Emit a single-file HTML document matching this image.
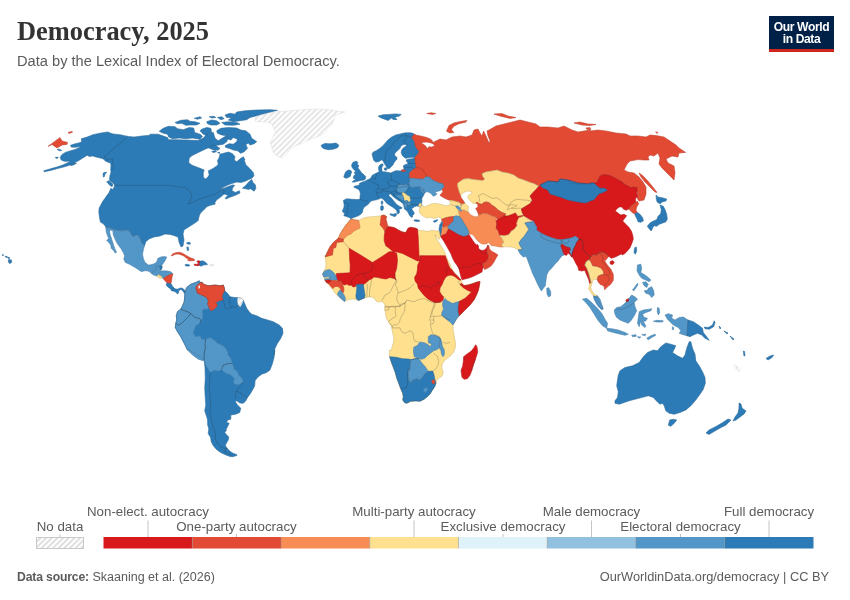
<!DOCTYPE html>
<html lang="en"><head><meta charset="utf-8"><title>Democracy, 2025</title>
<style>
html,body{margin:0;padding:0;background:#fff;}
body{width:850px;height:600px;position:relative;overflow:hidden;font-family:"Liberation Sans",sans-serif;color:#5b5b5b;}
.title{position:absolute;left:17px;top:15px;font-family:"Liberation Serif",serif;font-weight:bold;font-size:26.4px;line-height:32px;color:#333;letter-spacing:0px;white-space:nowrap;}
.subtitle{position:absolute;left:17px;top:51.9px;font-size:14.65px;line-height:18px;color:#5b5b5b;white-space:nowrap;}
.logo{position:absolute;left:769px;top:16px;width:65px;height:33px;background:#002147;border-bottom:3px solid #ce261e;color:#fff;font-weight:bold;font-size:12.1px;line-height:12px;text-align:center;letter-spacing:-0.4px;}
.logo span{display:block;}
.logo .l1{margin-top:5px;}
.src{position:absolute;left:17px;top:568.5px;font-size:12.5px;line-height:16px;color:#5b5b5b;white-space:nowrap;}
.src b{font-weight:bold;font-size:12.2px;letter-spacing:-0.15px;}
.url{position:absolute;right:21px;top:568.5px;font-size:12.8px;line-height:16px;color:#5b5b5b;white-space:nowrap;}
svg{position:absolute;left:0;top:0;}
svg text{font-family:"Liberation Sans",sans-serif;font-size:13.3px;fill:#5b5b5b;}
</style></head><body>
<div class="title">Democracy, 2025</div>
<div class="subtitle">Data by the Lexical Index of Electoral Democracy.</div>
<div class="logo"><span class="l1">Our World</span><span>in Data</span></div>
<svg width="850" height="600" viewBox="0 0 850 600">
<defs>
<pattern id="hatch" patternUnits="userSpaceOnUse" width="4" height="4" patternTransform="rotate(45)"><rect width="4" height="4" fill="#fff"/><line x1="1" y1="0" x2="1" y2="4" stroke="#dedede" stroke-width="1.9"/></pattern>
</defs>
<g id="map">
<defs><pattern id="hatch2" patternUnits="userSpaceOnUse" width="4" height="4" patternTransform="rotate(45)"><rect width="4" height="4" fill="#fff"/><line x1="1" y1="0" x2="1" y2="4" stroke="#e5e5e5" stroke-width="1.9"/></pattern></defs>
<path d="M48.0,146.4L60.0,137.6L62.0,141.0L67.6,142.4L67.0,144.4L62.0,145.0L57.0,148.0L52.0,144.4Z" fill="#e34a33" stroke="#e34a33" stroke-width="0.5" stroke-linejoin="round"/>
<path d="M68.0,132.6L72.0,131.4L72.6,132.2L69.0,133.4Z" fill="#e34a33" stroke="#e34a33" stroke-width="0.5" stroke-linejoin="round"/>
<path d="M159.2,131.3L163.3,128.3L168.3,126.3L175.0,126.7L177.5,128.7L183.3,129.7L189.2,127.5L193.7,128.0L194.7,132.5L200.0,134.2L202.5,136.3L200.0,139.3L192.5,138.0L185.8,138.7L179.2,138.0L172.5,138.7L168.7,137.0L167.5,134.2L163.3,133.3Z" fill="#2c7bb6" stroke="#2c7bb6" stroke-width="0.5" stroke-linejoin="round"/>
<path d="M175.0,122.5L180.8,120.3L187.5,119.7L190.0,121.3L195.0,121.7L200.0,123.3L196.7,125.0L190.0,125.0L185.8,125.3L181.7,123.3L177.5,123.7Z" fill="#2c7bb6" stroke="#2c7bb6" stroke-width="0.5" stroke-linejoin="round"/>
<path d="M194.2,118.3L200.0,116.7L201.7,118.0L197.5,119.2Z" fill="#2c7bb6" stroke="#2c7bb6" stroke-width="0.5" stroke-linejoin="round"/>
<path d="M206.7,121.7L211.7,120.0L216.7,120.8L220.0,123.3L216.7,125.0L210.8,125.0L207.5,123.7Z" fill="#2c7bb6" stroke="#2c7bb6" stroke-width="0.5" stroke-linejoin="round"/>
<path d="M209.2,116.7L214.2,116.3L215.8,117.5L211.7,118.0Z" fill="#2c7bb6" stroke="#2c7bb6" stroke-width="0.5" stroke-linejoin="round"/>
<path d="M217.5,117.5L221.7,116.7L224.2,118.7L220.8,119.7Z" fill="#2c7bb6" stroke="#2c7bb6" stroke-width="0.5" stroke-linejoin="round"/>
<path d="M225.0,115.0L230.0,113.3L235.0,114.2L236.7,112.0L245.0,110.8L256.7,110.0L270.0,109.7L277.5,110.3L266.7,113.0L256.7,115.8L250.0,117.5L246.7,119.7L240.0,120.8L233.3,121.7L228.3,120.0L231.7,117.5L226.7,117.5Z" fill="#2c7bb6" stroke="#2c7bb6" stroke-width="0.5" stroke-linejoin="round"/>
<path d="M221.7,122.5L228.3,121.7L236.7,122.5L240.0,124.2L233.3,125.3L225.0,125.0Z" fill="#2c7bb6" stroke="#2c7bb6" stroke-width="0.5" stroke-linejoin="round"/>
<path d="M201.7,129.2L206.7,127.5L210.8,128.3L211.7,132.5L208.3,133.3L206.7,135.8L203.3,134.2L200.0,130.8Z" fill="#2c7bb6" stroke="#2c7bb6" stroke-width="0.5" stroke-linejoin="round"/>
<path d="M216.7,130.8L220.8,128.3L228.3,127.5L236.7,128.0L240.8,130.0L245.8,130.8L250.0,134.2L251.7,138.3L256.7,141.7L254.2,143.7L250.0,145.0L248.3,143.0L245.8,144.7L247.5,148.3L244.2,151.7L240.8,153.3L237.5,150.8L233.3,150.0L229.2,148.3L225.8,147.5L225.0,145.8L229.2,143.7L233.3,144.2L236.7,141.7L237.5,139.2L233.3,137.5L230.8,140.0L228.3,139.2L227.0,135.8L221.7,135.0L217.5,133.3Z" fill="#2c7bb6" stroke="#2c7bb6" stroke-width="0.5" stroke-linejoin="round"/>
<path d="M81.2,138.8L87.1,137.1L92.9,134.7L101.2,132.9L107.6,132.0L112.9,133.9L120.0,134.7L128.0,136.4L134.0,137.0L142.0,136.0L150.0,135.2L150.0,134.2L158.3,134.2L167.5,137.5L168.7,139.7L176.7,139.7L186.7,140.0L198.3,140.5L203.3,138.0L207.5,133.7L213.3,132.5L215.0,138.3L218.3,140.8L223.3,137.5L226.3,135.8L228.3,137.5L226.7,141.7L223.3,144.2L216.7,145.3L212.5,145.8L209.2,147.5L205.0,149.2L198.3,152.5L191.7,155.8L189.2,158.3L188.7,162.5L191.7,165.0L195.8,166.7L200.0,168.3L204.2,170.0L203.3,172.5L203.3,176.7L205.0,179.2L207.5,177.5L209.2,175.0L208.3,170.8L211.7,169.2L215.8,166.7L218.3,164.2L217.5,160.8L219.2,157.5L220.0,154.2L228.3,152.0L232.5,153.7L235.0,156.7L234.2,160.0L236.7,161.7L240.8,158.3L243.3,156.7L245.0,160.0L244.1,160.0L245.9,164.7L250.6,169.4L253.5,172.9L253.9,175.9L251.8,178.2L248.8,179.4L245.9,180.9L241.2,182.4L236.5,182.1L231.8,183.5L227.1,185.3L222.9,187.6L220.0,190.4L223.5,188.5L228.2,186.4L232.9,184.9L234.7,185.5L232.9,187.6L231.8,190.6L235.3,192.4L239.4,190.8L240.0,192.9L235.3,195.3L229.4,197.4L225.9,199.1L225.3,197.9L228.2,195.3L224.1,194.1L220.0,197.6L216.5,200.0L214.7,202.9L215.3,204.1L210.6,205.3L207.1,206.5L204.1,209.4L200.6,212.9L199.4,215.3L198.8,217.6L198.2,220.6L194.1,223.5L189.4,226.5L184.7,229.4L184.0,230.0L183.0,234.0L184.0,240.0L183.0,246.0L181.0,247.0L179.0,242.0L178.0,237.0L174.0,235.6L170.0,234.4L165.0,234.0L160.0,236.0L154.0,237.0L149.0,239.0L145.8,241.7L144.6,245.4L141.7,242.9L140.4,239.2L138.3,235.4L135.8,235.0L133.8,236.7L131.7,235.4L130.8,232.9L128.3,230.4L125.0,230.0L122.5,230.8L117.5,230.4L113.3,229.3L110.0,227.9L105.8,227.5L105.4,226.2L103.3,223.8L100.4,222.1L99.6,218.3L99.2,215.0L99.2,215.0L98.8,211.7L99.2,207.9L100.8,205.0L102.5,201.7L104.6,198.8L106.7,195.8L108.8,192.9L110.0,190.4L110.8,188.3L112.9,189.6L113.8,187.5L115.0,185.4L111.7,182.1L109.6,180.4L109.6,178.3L110.0,175.0L110.3,174.7L111.0,172.0L110.7,169.3L111.0,166.0L110.7,163.3L108.3,162.3L105.7,161.3L103.0,158.7L99.0,157.7L95.0,156.7L92.9,155.9L89.4,156.5L87.1,155.3L85.3,156.5L82.4,158.2L78.8,160.6L74.1,162.9L69.4,165.3L63.5,167.1L57.6,168.5L50.6,170.4L44.1,171.8L43.8,170.8L50.6,168.8L57.6,166.8L63.5,164.7L68.2,162.4L70.6,161.2L67.6,161.2L64.1,161.2L61.2,160.0L60.2,157.4L61.8,154.7L65.3,152.4L70.6,150.8L75.3,149.4L79.4,147.6L80.6,146.5L75.3,147.3L71.2,147.1L70.6,145.3L74.1,144.1L78.8,142.9L81.8,141.8Z" fill="#2c7bb6" stroke="#2c7bb6" stroke-width="0.5" stroke-linejoin="round"/>
<path d="M242.4,188.2L245.9,185.3L249.4,181.2L251.8,179.4L252.9,182.4L255.3,184.7L255.9,188.2L254.1,191.2L252.4,190.0L250.6,188.8L248.2,189.4L245.9,188.8Z" fill="#2c7bb6" stroke="#2c7bb6" stroke-width="0.5" stroke-linejoin="round"/>
<path d="M103.0,173.3L105.0,172.3L106.7,172.3L105.0,174.3L104.3,176.7L103.3,177.0Z" fill="#2c7bb6" stroke="#2c7bb6" stroke-width="0.5" stroke-linejoin="round"/>
<path d="M106.7,181.7L108.8,180.8L111.2,182.5L112.9,185.0L112.1,186.7L110.0,185.4L107.9,183.3Z" fill="#2c7bb6" stroke="#2c7bb6" stroke-width="0.5" stroke-linejoin="round"/>
<path d="M105.8,227.5L110.0,227.9L113.3,229.3L117.5,230.4L122.5,230.8L125.0,230.0L128.3,230.4L130.8,232.9L131.7,235.4L133.8,236.7L135.8,235.0L138.3,235.4L140.4,239.2L141.7,242.9L144.6,245.4L143.3,250.0L142.5,254.2L143.3,258.3L145.0,262.5L146.2,263.3L148.3,265.0L150.8,264.8L154.2,263.8L156.7,262.1L157.9,258.3L160.8,257.1L164.2,256.5L166.7,257.1L165.4,260.0L163.8,262.5L162.5,264.6L161.2,265.4L160.4,265.8L155.8,266.2L155.4,267.9L157.1,269.2L155.8,270.4L153.3,271.2L152.1,273.3L151.7,273.8L150.0,272.1L147.5,270.8L144.2,270.8L141.7,271.7L140.0,270.8L136.0,268.0L129.0,264.0L125.4,262.5L123.8,259.2L124.6,255.8L123.3,252.5L120.8,248.3L117.9,244.6L115.4,240.0L113.3,235.0L112.9,230.8L110.4,230.0L109.6,231.2L110.0,234.2L111.2,237.5L112.5,241.7L113.8,245.8L115.0,249.2L116.5,251.7L115.4,253.3L113.8,250.8L111.2,248.3L110.8,245.0L108.8,242.5L106.7,240.4L108.8,238.3L107.5,235.8L106.2,231.7Z" fill="#5396c8" stroke="#5396c8" stroke-width="0.5" stroke-linejoin="round"/>
<path d="M155.8,266.2L160.4,265.8L160.0,267.9L160.8,269.6L160.4,270.8L159.6,272.1L158.3,274.2L157.1,275.8L156.2,276.0L153.8,275.0L151.7,273.8L152.1,273.3L153.3,271.2L155.8,270.4L157.1,269.2L155.4,267.9Z" fill="#5396c8" stroke="#5396c8" stroke-width="0.5" stroke-linejoin="round"/>
<path d="M160.4,265.8L161.2,265.4L162.3,266.2L161.8,268.8L160.8,270.0L160.0,267.9Z" fill="#2c7bb6" stroke="#2c7bb6" stroke-width="0.5" stroke-linejoin="round"/>
<path d="M160.4,271.0L163.3,270.8L167.5,271.0L170.8,271.8L172.9,273.8L170.0,274.6L167.5,275.8L165.0,277.1L163.3,278.8L162.5,277.9L161.8,276.8L160.8,276.0L158.8,275.0L159.6,272.1Z" fill="#5396c8" stroke="#5396c8" stroke-width="0.5" stroke-linejoin="round"/>
<path d="M157.1,276.0L158.5,274.8L160.8,276.0L161.8,276.8L162.3,278.2L160.4,278.2L157.9,277.3Z" fill="#fee08f" stroke="#fee08f" stroke-width="0.5" stroke-linejoin="round"/>
<path d="M163.3,278.8L165.0,277.1L167.5,275.8L170.0,274.6L172.9,273.9L172.1,276.7L171.7,280.0L171.0,283.3L169.6,283.8L167.1,282.9L165.0,280.8Z" fill="#e34a33" stroke="#e34a33" stroke-width="0.5" stroke-linejoin="round"/>
<path d="M166.2,283.8L167.1,282.9L169.6,283.8L171.0,283.5L172.1,285.4L173.3,287.5L172.9,289.6L171.7,290.8L170.8,289.2L169.2,287.9L167.5,286.7L166.5,285.4Z" fill="#2c7bb6" stroke="#2c7bb6" stroke-width="0.5" stroke-linejoin="round"/>
<path d="M172.9,289.6L173.3,287.5L175.0,288.8L177.5,289.2L179.6,288.3L181.2,287.9L183.3,288.8L185.0,290.8L185.7,292.5L184.6,293.3L183.3,291.7L182.1,290.0L180.4,289.6L178.8,290.8L178.3,293.3L177.1,293.8L175.8,292.1L173.8,291.2L171.7,290.8Z" fill="#2c7bb6" stroke="#2c7bb6" stroke-width="0.5" stroke-linejoin="round"/>
<path d="M171.2,255.4L172.9,253.8L175.8,252.7L179.2,252.3L182.5,253.2L185.4,255.0L188.3,256.7L191.7,258.3L194.2,259.2L194.6,260.4L191.7,260.8L188.8,260.7L187.5,260.0L188.8,259.0L186.2,257.9L184.2,256.2L181.7,255.0L178.3,254.0L175.0,254.2L172.5,255.8Z" fill="#e34a33" stroke="#e34a33" stroke-width="0.5" stroke-linejoin="round"/>
<path d="M185.0,264.8L186.7,264.2L189.2,264.8L189.8,265.8L187.5,266.2L185.4,265.7Z" fill="#2c7bb6" stroke="#2c7bb6" stroke-width="0.5" stroke-linejoin="round"/>
<path d="M196.7,261.2L198.3,260.7L200.4,261.2L199.6,263.3L199.8,265.4L197.5,265.7L194.6,265.4L194.0,264.3L196.7,264.2L198.3,263.8L197.9,262.5Z" fill="#d7191c" stroke="#d7191c" stroke-width="0.5" stroke-linejoin="round"/>
<path d="M200.4,261.2L202.5,260.8L204.6,261.7L206.7,263.3L207.5,264.6L205.8,264.8L203.3,265.0L201.2,266.2L199.8,265.4L199.6,263.3Z" fill="#2c7bb6" stroke="#2c7bb6" stroke-width="0.5" stroke-linejoin="round"/>
<path d="M209.6,264.4L213.6,264.1L213.9,265.8L210.0,266.1Z" fill="url(#hatch2)" stroke="#dcdcdc" stroke-width="0.5"/>
<path d="M186.4,243.1L189.5,242.1L190.6,244.0L188.1,244.2Z" fill="#2c7bb6" stroke="#2c7bb6" stroke-width="0.5" stroke-linejoin="round"/>
<path d="M186.7,247.4L188.1,246.8L188.8,250.2L187.4,250.6Z" fill="#2c7bb6" stroke="#2c7bb6" stroke-width="0.5" stroke-linejoin="round"/>
<path d="M57.1,149.4L59.4,149.2L61.8,150.4L59.4,150.8Z" fill="#2c7bb6" stroke="#2c7bb6" stroke-width="0.5" stroke-linejoin="round"/>
<path d="M55.3,157.4L57.6,157.1L58.2,157.9L56.2,158.6Z" fill="#2c7bb6" stroke="#2c7bb6" stroke-width="0.5" stroke-linejoin="round"/>
<path d="M70.0,164.5L74.1,162.9L76.5,163.3L73.5,164.9L70.8,165.6Z" fill="#2c7bb6" stroke="#2c7bb6" stroke-width="0.5" stroke-linejoin="round"/>
<path d="M8.5,259.5L11.5,260.0L11.6,262.5L9.6,263.6L8.4,262.0Z" fill="#2c7bb6" stroke="#2c7bb6" stroke-width="0.5" stroke-linejoin="round"/>
<path d="M5.4,256.0L7.5,256.8L7.3,257.7L5.3,256.9Z" fill="#2c7bb6" stroke="#2c7bb6" stroke-width="0.5" stroke-linejoin="round"/>
<path d="M8.0,257.3L9.6,257.6L9.5,258.5L8.0,258.2Z" fill="#2c7bb6" stroke="#2c7bb6" stroke-width="0.5" stroke-linejoin="round"/>
<path d="M2.4,254.6L3.5,254.8L3.4,255.6L2.4,255.4Z" fill="#2c7bb6" stroke="#2c7bb6" stroke-width="0.5" stroke-linejoin="round"/>
<path d="M208.8,147.9L211.8,145.0L215.9,145.6L220.0,148.5L217.6,150.3L212.9,149.7Z" fill="#2c7bb6" stroke="#2c7bb6" stroke-width="0.5" stroke-linejoin="round"/>
<path d="M211.8,151.5L215.3,150.6L216.5,151.8L212.9,152.6Z" fill="#2c7bb6" stroke="#2c7bb6" stroke-width="0.5" stroke-linejoin="round"/>
<path d="M217.6,152.6L219.4,152.1L219.8,153.5Z" fill="#2c7bb6" stroke="#2c7bb6" stroke-width="0.5" stroke-linejoin="round"/>
<path d="M185.0,291.7L186.7,287.5L190.8,284.2L195.8,282.5L199.2,280.8L200.0,282.5L201.7,282.0L203.7,284.2L208.3,285.8L215.0,285.0L220.0,285.8L223.3,285.0L224.2,287.5L224.7,290.8L227.5,293.3L230.0,296.7L234.2,297.5L238.0,297.5L240.8,298.0L243.3,300.0L244.2,302.5L246.7,308.3L249.2,311.7L251.7,314.2L256.7,315.8L261.7,318.3L266.7,319.7L273.3,321.7L279.2,325.0L282.5,328.3L283.0,333.3L280.8,338.3L277.5,343.3L275.0,348.3L274.2,355.0L274.2,350.0L274.2,356.7L272.5,363.3L270.0,370.0L266.7,372.5L261.7,374.2L257.5,377.5L255.0,380.8L254.7,385.8L252.5,390.0L250.0,394.2L247.5,397.5L245.8,400.8L243.3,403.3L240.0,403.0L236.7,400.8L235.3,401.7L237.5,405.0L240.8,408.3L239.7,412.5L235.8,414.2L230.8,415.0L230.8,419.2L227.5,420.0L226.7,422.5L229.2,423.3L227.5,426.7L225.8,430.0L226.5,430.0L224.7,432.4L226.5,434.7L228.8,437.1L228.2,440.0L226.5,442.9L225.3,445.3L226.5,447.6L228.2,449.4L230.6,451.8L233.5,453.5L236.5,454.4L237.1,455.3L232.9,456.7L230.0,456.5L225.3,454.7L220.6,452.4L216.5,449.4L213.5,445.9L211.2,441.8L210.6,437.6L208.2,433.5L208.8,428.8L207.6,424.7L207.6,420.0L206.7,416.7L204.7,410.8L205.8,405.0L205.3,398.3L204.7,388.3L205.3,378.3L205.0,368.3L204.2,360.0L201.7,357.5L195.0,353.3L189.2,350.0L187.5,350.0L184.2,343.3L180.8,336.7L177.5,331.7L175.3,327.5L175.8,323.3L176.7,320.0L176.3,315.8L177.5,311.7L180.8,309.2L182.5,305.8L184.2,301.7L184.7,296.7Z" fill="#2c7bb6" stroke="#2c7bb6" stroke-width="0.5" stroke-linejoin="round"/>
<path d="M185.0,291.7L186.7,287.5L190.8,284.2L195.8,282.5L199.2,280.8L200.0,282.5L197.5,285.0L195.8,287.5L196.3,290.0L197.5,293.3L201.7,295.0L206.7,297.5L208.3,300.8L207.5,304.2L209.2,307.5L207.5,309.2L203.3,309.2L202.5,311.7L203.0,315.8L201.7,320.0L200.0,323.3L200.8,320.0L199.2,318.3L195.0,317.5L190.8,313.7L189.2,312.5L185.0,310.8L180.8,309.2L182.5,305.8L184.2,301.7L184.7,296.7Z" fill="#5396c8" stroke="#5396c8" stroke-width="0.5" stroke-linejoin="round"/>
<path d="M180.8,309.2L185.0,310.8L189.2,312.5L190.8,313.7L188.3,316.7L185.0,320.0L181.7,323.3L178.3,325.3L176.3,323.7L175.8,323.3L176.7,320.0L176.3,315.8L177.5,311.7Z" fill="#5396c8" stroke="#5396c8" stroke-width="0.5" stroke-linejoin="round"/>
<path d="M190.8,313.7L195.0,317.5L199.2,318.3L200.8,320.0L200.0,323.3L195.8,325.8L194.2,330.0L193.3,333.3L195.8,336.7L200.0,335.8L201.7,339.2L205.8,339.2L205.0,343.3L205.3,348.3L204.2,353.3L204.2,358.3L203.3,360.8L198.3,359.2L192.5,355.0L187.5,350.0L184.2,343.3L180.8,336.7L177.5,331.7L175.3,327.5L175.8,323.3L176.3,323.7L178.3,325.3L181.7,323.3L185.0,320.0L188.3,316.7Z" fill="#5396c8" stroke="#5396c8" stroke-width="0.5" stroke-linejoin="round"/>
<path d="M205.8,339.2L210.0,337.5L214.2,340.0L217.5,343.3L221.7,345.0L225.8,348.3L228.3,353.3L227.5,354.2L230.8,358.3L232.5,363.3L227.5,363.7L223.3,365.0L221.7,369.2L218.3,371.3L214.2,370.3L210.8,372.5L208.7,370.0L205.8,365.0L204.2,360.0L204.2,358.3L204.2,353.3L205.3,348.3L205.0,343.3Z" fill="#5396c8" stroke="#5396c8" stroke-width="0.5" stroke-linejoin="round"/>
<path d="M232.5,363.3L234.2,369.2L237.5,371.7L239.2,375.8L241.7,377.5L243.3,381.7L240.0,384.2L235.8,385.0L233.3,382.5L234.2,378.3L230.8,375.0L225.8,373.3L222.5,370.8L221.7,369.2L223.3,365.0L227.5,363.7Z" fill="#5396c8" stroke="#5396c8" stroke-width="0.5" stroke-linejoin="round"/>
<path d="M195.8,287.5L197.5,284.7L201.7,282.0L203.7,284.2L208.3,285.8L215.0,285.0L220.0,285.8L223.3,285.0L224.2,287.5L224.7,290.8L223.0,293.3L222.0,296.7L223.0,299.7L219.2,300.8L215.8,302.5L217.5,305.8L214.2,309.2L210.8,310.8L209.2,307.5L207.5,304.2L208.3,300.8L206.7,297.5L201.7,295.0L197.5,293.3L196.3,290.0Z" fill="#e34a33" stroke="#e34a33" stroke-width="0.5" stroke-linejoin="round"/>
<path d="M198.3,285.8L199.7,285.3L200.0,288.0L198.7,288.7Z" fill="#fff"/>
<path d="M238.0,297.5L240.8,298.0L243.3,300.0L241.7,304.2L240.0,307.0L238.3,305.0L237.5,300.8Z" fill="url(#hatch2)" stroke="#dcdcdc" stroke-width="0.5"/>
<path d="M254.8,118.4L259.8,115.5L268.2,113.4L278.1,111.6L288.0,111.0L299.3,109.9L310.6,109.2L321.9,109.2L331.8,109.9L338.9,111.3L345.2,112.0L338.9,114.1L335.3,115.5L333.9,119.8L331.8,124.7L327.6,129.0L324.7,133.2L319.1,136.0L313.4,138.1L306.4,141.0L300.7,143.8L295.1,145.9L290.1,149.4L286.6,153.7L282.4,157.9L278.1,156.5L273.9,153.7L271.8,148.0L270.4,142.4L273.2,136.7L275.3,132.5L273.9,128.2L271.8,124.0L266.8,121.9L259.8,121.9L255.5,121.2Z" fill="url(#hatch2)" stroke="#dcdcdc" stroke-width="0.5"/>
<path d="M321.2,145.2L324.7,143.5L330.4,143.8L336.0,143.1L338.9,145.2L337.5,147.7L333.2,149.2L328.3,149.7L324.0,148.7L321.9,147.3Z" fill="#2c7bb6" stroke="#2c7bb6" stroke-width="0.5" stroke-linejoin="round"/>
<path d="M378.1,116.1L383.1,114.8L388.8,114.4L395.4,113.9L401.2,114.4L399.5,116.1L394.6,117.2L397.1,119.4L393.8,119.7L391.3,118.1L388.0,120.5L383.9,118.9L380.6,117.7Z" fill="#2c7bb6" stroke="#2c7bb6" stroke-width="0.5" stroke-linejoin="round"/>
<path d="M382.5,163.8L380.4,164.6L378.8,166.2L378.5,168.8L379.2,171.8L376.7,172.9L374.2,174.2L372.1,175.4L371.2,177.5L369.2,179.2L367.1,180.0L365.0,181.2L362.5,182.1L359.6,183.3L359.3,185.0L357.1,185.8L354.6,186.0L353.8,187.1L356.2,188.3L358.8,189.6L360.0,191.7L360.4,194.2L360.0,196.7L360.0,199.2L356.7,199.6L351.7,199.2L346.7,198.8L343.3,200.4L343.8,202.5L344.2,205.0L343.8,207.9L342.5,210.4L342.9,212.1L344.6,213.8L343.8,215.8L345.8,216.2L349.2,217.5L350.8,219.0L352.5,217.9L355.0,217.1L358.3,215.8L360.8,214.2L362.5,212.1L362.9,209.6L364.2,207.1L366.7,205.4L369.2,203.3L369.2,202.5L371.7,200.8L375.0,200.0L377.5,199.6L379.2,198.8L381.2,197.9L383.3,199.2L385.0,201.2L386.7,203.3L389.2,205.0L392.5,207.1L395.0,208.8L396.7,210.4L397.1,212.5L397.9,214.2L399.2,212.9L399.6,210.8L398.5,209.6L400.0,209.0L401.7,208.5L402.1,207.7L399.2,206.2L396.7,204.6L395.0,202.5L393.3,200.4L391.7,198.3L390.0,197.1L388.8,195.8L389.2,194.2L390.4,193.8L390.4,193.8L391.0,194.2L392.5,196.0L395.0,198.0L397.5,199.8L400.0,201.2L402.0,202.5L403.2,204.0L404.0,206.0L404.2,208.0L404.8,209.5L405.0,209.3L406.3,210.3L408.0,212.3L409.3,215.0L411.0,217.0L412.3,217.3L412.7,215.0L414.3,214.0L413.7,211.7L412.3,210.0L411.7,208.3L413.3,207.7L414.3,206.7L416.7,206.0L418.3,206.3L419.3,207.0L420.7,206.0L422.3,205.0L421.3,203.3L422.0,201.3L421.7,198.7L423.0,196.3L424.0,195.0L423.8,193.8L424.6,192.5L423.3,190.0L420.8,187.5L418.8,186.7L415.8,187.1L412.5,187.5L410.0,186.7L409.2,185.0L408.8,183.3L410.0,180.8L409.2,177.9L409.6,175.0L409.2,173.3L410.8,171.7L412.9,169.6L414.2,168.8L416.2,167.9L415.4,163.3L415.0,159.2L415.0,158.3L411.7,158.8L408.3,159.2L406.2,160.0L406.7,161.7L407.9,162.9L408.3,164.2L406.2,164.2L404.6,165.0L403.3,165.8L403.8,167.9L404.2,170.0L402.9,169.8L401.2,170.4L401.2,171.2L398.3,170.7L395.8,170.8L393.3,171.7L390.8,172.9L388.3,172.5L385.8,172.1L383.8,171.7L382.1,172.1L382.1,170.7L381.7,168.8L382.1,166.7L383.3,165.0Z" fill="#2c7bb6" stroke="#2c7bb6" stroke-width="0.5" stroke-linejoin="round"/>
<path d="M372.1,153.8L373.3,152.1L376.7,150.4L380.0,148.3L382.9,145.8L385.4,142.9L387.9,140.0L391.7,137.1L395.8,135.0L400.0,134.0L404.2,132.9L408.3,132.7L411.7,132.9L414.2,134.0L413.3,135.4L411.7,137.5L412.9,139.2L414.6,141.7L415.0,144.6L415.8,147.1L417.5,149.6L419.2,151.7L417.9,153.8L416.2,155.8L415.0,157.5L411.7,157.3L408.3,157.7L405.8,158.3L403.8,157.1L402.1,155.0L401.2,152.5L401.7,150.0L402.9,148.3L405.0,146.7L406.7,145.4L405.4,144.3L402.9,144.8L400.8,146.2L400.0,148.3L398.3,150.0L396.2,151.7L394.6,153.8L394.6,155.8L396.7,157.1L397.1,159.2L395.4,160.8L393.8,162.9L392.9,165.0L390.8,167.1L389.2,168.8L387.1,168.3L386.2,166.2L385.0,164.6L383.8,162.5L382.9,160.4L381.2,160.0L378.8,161.7L375.8,162.1L373.8,160.4L372.9,157.5L372.3,155.0Z" fill="#2c7bb6" stroke="#2c7bb6" stroke-width="0.5" stroke-linejoin="round"/>
<path d="M384.2,168.3L386.2,167.7L387.1,169.0L386.2,170.4L384.6,170.0Z" fill="#2c7bb6" stroke="#2c7bb6" stroke-width="0.5" stroke-linejoin="round"/>
<path d="M343.8,177.1L344.6,174.2L345.8,171.7L348.3,170.0L350.8,170.4L351.7,172.1L350.8,174.2L350.4,176.2L348.3,177.5L345.8,178.3Z" fill="#2c7bb6" stroke="#2c7bb6" stroke-width="0.5" stroke-linejoin="round"/>
<path d="M351.7,164.6L353.3,162.1L356.7,161.2L357.9,162.5L357.1,164.2L358.8,165.4L357.9,167.9L359.6,170.0L361.7,172.9L363.8,174.6L365.8,176.7L365.4,178.8L364.2,180.0L360.8,180.4L357.5,181.2L354.2,182.1L352.1,182.1L353.8,180.4L356.2,179.2L353.3,178.3L353.8,175.8L355.4,174.6L354.2,172.5L355.8,171.2L353.8,169.6L352.5,167.9L351.7,166.2Z" fill="#2c7bb6" stroke="#2c7bb6" stroke-width="0.5" stroke-linejoin="round"/>
<path d="M390.0,213.8L393.3,214.2L396.2,213.3L396.5,215.0L395.0,216.7L392.5,215.8L390.4,215.0Z" fill="#2c7bb6" stroke="#2c7bb6" stroke-width="0.5" stroke-linejoin="round"/>
<path d="M380.7,206.2L382.5,205.4L383.5,207.1L383.2,209.6L381.7,210.8L380.7,209.6Z" fill="#2c7bb6" stroke="#2c7bb6" stroke-width="0.5" stroke-linejoin="round"/>
<path d="M381.2,201.7L382.5,200.8L382.9,202.9L382.1,204.6L381.2,203.8Z" fill="#2c7bb6" stroke="#2c7bb6" stroke-width="0.5" stroke-linejoin="round"/>
<path d="M414.0,220.0L416.0,219.8L419.3,220.3L419.7,221.3L417.0,221.5L414.3,221.0Z" fill="#2c7bb6" stroke="#2c7bb6" stroke-width="0.5" stroke-linejoin="round"/>
<path d="M433.2,221.3L435.3,220.3L437.7,219.7L437.3,220.7L436.0,221.7L434.0,222.3Z" fill="#2c7bb6" stroke="#2c7bb6" stroke-width="0.5" stroke-linejoin="round"/>
<path d="M397.2,185.8L399.5,184.5L402.5,184.2L406.0,184.0L408.2,184.2L408.5,185.5L407.0,186.2L404.5,186.8L402.0,187.0L399.5,187.5L397.8,187.0Z" fill="#5396c8" stroke="#5396c8" stroke-width="0.5" stroke-linejoin="round"/>
<path d="M396.8,189.2L397.8,187.2L399.5,187.5L402.0,187.0L404.5,186.8L407.0,186.2L408.5,187.0L408.0,188.5L407.0,190.0L406.0,191.5L404.5,192.2L402.2,192.8L400.0,192.8L398.0,191.8L397.0,190.5Z" fill="#5396c8" stroke="#5396c8" stroke-width="0.5" stroke-linejoin="round"/>
<path d="M402.0,193.2L403.5,192.5L404.8,193.2L406.0,194.5L407.5,195.5L409.0,196.2L410.0,197.2L409.8,198.8L410.5,200.0L409.8,201.2L409.0,202.0L407.8,201.0L406.5,200.2L405.0,200.8L404.2,199.8L404.0,198.2L403.2,197.0L402.8,195.2Z" fill="#fee08f" stroke="#fee08f" stroke-width="0.5" stroke-linejoin="round"/>
<path d="M395.8,195.5L398.0,195.0L400.5,195.2L402.8,195.5L403.2,197.0L403.8,198.2L403.2,199.5L402.2,200.2L401.0,199.2L399.5,198.2L397.8,197.2L396.5,196.5Z" fill="#5396c8" stroke="#5396c8" stroke-width="0.5" stroke-linejoin="round"/>
<path d="M405.5,200.8L407.0,200.5L408.0,201.2L407.5,202.5L406.2,202.8L405.5,202.0Z" fill="#5396c8" stroke="#5396c8" stroke-width="0.5" stroke-linejoin="round"/>
<path d="M406.8,203.2L408.5,202.8L410.5,203.0L411.2,204.0L410.5,205.0L408.5,205.5L407.0,205.0Z" fill="#5396c8" stroke="#5396c8" stroke-width="0.5" stroke-linejoin="round"/>
<path d="M404.2,203.5L405.2,202.5L406.2,203.0L406.8,204.0L407.0,205.2L406.5,207.0L405.8,208.2L405.0,207.2L404.5,205.5Z" fill="#5396c8" stroke="#5396c8" stroke-width="0.5" stroke-linejoin="round"/>
<path d="M401.2,170.4L402.9,169.8L405.4,170.2L405.8,171.2L401.7,171.5Z" fill="#e34a33" stroke="#e34a33" stroke-width="0.5" stroke-linejoin="round"/>
<path d="M411.7,137.5L413.3,135.4L414.2,134.0L416.7,135.2L421.7,136.2L426.7,137.5L430.8,139.2L432.7,141.2L432.1,143.2L430.0,142.7L426.7,142.1L423.3,142.3L421.0,142.7L422.5,143.8L424.6,145.0L426.2,146.8L427.1,148.8L428.8,146.8L431.7,147.1L435.0,145.8L432.0,143.0L436.0,141.0L440.0,139.0L446.0,140.0L452.0,137.0L460.0,136.0L466.0,137.0L472.0,135.0L474.0,130.0L478.0,129.0L480.0,133.0L482.0,136.0L483.6,131.0L486.0,136.0L489.0,143.0L490.0,141.0L488.0,136.0L487.0,131.0L489.0,130.0L496.0,126.0L504.0,124.0L512.0,122.0L520.0,120.0L528.0,122.0L536.0,124.0L540.0,127.0L548.0,127.0L558.0,128.0L564.0,126.0L572.0,130.0L578.0,132.0L584.0,131.0L590.0,130.0L590.0,131.0L598.0,130.0L606.0,131.0L616.0,133.0L626.0,134.0L630.0,136.0L638.0,136.0L646.0,137.0L650.0,135.0L656.0,135.6L664.0,137.0L670.0,141.0L676.0,145.0L679.0,148.0L685.6,152.4L679.0,153.0L678.0,157.0L672.0,156.0L666.0,159.0L668.0,163.0L674.0,166.0L675.0,173.0L674.0,180.0L668.0,174.0L662.0,168.0L659.0,164.0L660.0,158.0L658.0,153.0L654.0,156.0L650.0,155.0L648.0,157.0L649.0,160.0L644.0,160.0L638.0,159.6L630.0,161.0L627.0,164.0L624.0,170.0L628.0,172.0L634.0,173.0L639.0,177.0L643.0,182.0L646.0,187.0L646.0,194.0L644.0,200.0L639.0,201.0L637.0,198.0L637.6,193.0L634.0,187.0L630.0,188.0L623.0,183.0L617.0,179.0L610.0,175.6L604.0,174.4L600.0,176.0L598.0,180.0L597.0,183.0L596.0,183.2L590.0,183.6L580.0,184.2L570.0,183.4L568.0,180.0L560.0,179.0L558.0,182.0L548.0,181.0L540.0,185.0L538.0,186.0L535.0,184.0L529.0,182.0L524.0,180.0L518.0,178.0L514.0,175.0L508.0,173.0L502.0,172.0L497.1,170.0L491.4,171.0L485.7,171.9L481.9,173.8L482.9,176.7L484.8,179.0L482.9,180.5L478.1,180.0L473.3,179.5L468.6,178.6L463.8,179.0L460.0,181.4L457.6,183.3L457.6,186.2L459.0,191.0L460.5,195.2L461.0,197.6L462.9,200.0L465.0,203.3L462.9,204.3L460.5,203.8L459.0,202.4L454.3,201.0L450.0,200.3L446.7,199.2L443.3,197.5L440.0,195.4L440.4,194.6L441.7,193.3L442.9,191.7L442.5,190.8L441.7,189.2L443.8,186.7L442.9,183.8L439.2,182.9L435.0,181.2L431.7,179.6L429.6,177.1L425.8,176.7L423.3,179.2L420.0,179.0L415.8,178.8L411.7,178.3L409.2,177.9L409.6,175.0L409.2,173.3L410.8,171.7L412.9,169.6L414.2,168.8L416.2,167.9L415.4,163.3L415.0,159.2L415.0,158.3L415.0,157.5L416.2,155.8L417.9,153.8L419.2,151.7L417.5,149.6L415.8,147.1L415.0,144.6L414.6,141.7L412.9,139.2Z" fill="#e34a33" stroke="#e34a33" stroke-width="0.5" stroke-linejoin="round"/>
<path d="M426.7,113.5L430.8,112.8L435.8,113.5L432.5,114.4Z" fill="#e34a33" stroke="#e34a33" stroke-width="0.5" stroke-linejoin="round"/>
<path d="M446.5,131.2L449.0,125.5L453.9,123.0L460.5,121.4L467.1,120.5L465.4,122.2L458.8,123.8L453.9,126.3L451.4,129.6L453.9,132.6L449.8,132.9Z" fill="#e34a33" stroke="#e34a33" stroke-width="0.5" stroke-linejoin="round"/>
<path d="M494.0,114.0L502.0,113.6L508.0,116.0L516.0,117.6L510.0,118.4L500.0,116.0Z" fill="#e34a33" stroke="#e34a33" stroke-width="0.5" stroke-linejoin="round"/>
<path d="M574.0,123.0L580.0,122.0L588.0,124.0L596.0,124.4L590.0,125.6L582.0,125.0Z" fill="#e34a33" stroke="#e34a33" stroke-width="0.5" stroke-linejoin="round"/>
<path d="M586.0,128.0L590.0,127.6L591.0,129.6L587.0,129.6Z" fill="#e34a33" stroke="#e34a33" stroke-width="0.5" stroke-linejoin="round"/>
<path d="M655.6,132.0L658.0,132.4L657.2,133.4Z" fill="#e34a33" stroke="#e34a33" stroke-width="0.5" stroke-linejoin="round"/>
<path d="M639.0,173.0L642.0,175.0L647.0,180.0L652.0,186.0L657.0,192.4L655.0,192.0L650.0,187.0L645.0,182.0L641.0,177.0Z" fill="#e34a33" stroke="#e34a33" stroke-width="0.5" stroke-linejoin="round"/>
<path d="M409.2,177.9L411.7,178.3L415.8,178.8L420.0,179.0L423.3,179.2L425.8,176.7L429.6,177.1L431.7,179.6L435.0,181.2L439.2,182.9L442.9,183.8L443.8,186.7L441.7,189.2L440.4,190.4L438.3,191.2L435.8,191.7L435.0,192.9L437.1,193.8L435.8,195.0L433.8,196.2L432.5,195.4L430.8,193.3L428.3,192.1L426.2,191.7L423.8,193.8L424.6,192.5L423.3,190.0L420.8,187.5L418.8,186.7L415.8,187.1L412.5,187.5L410.0,186.7L409.2,185.0L408.8,183.3L410.0,180.8Z" fill="#5396c8" stroke="#5396c8" stroke-width="0.5" stroke-linejoin="round"/>
<path d="M418.8,186.7L420.8,187.5L423.3,190.0L424.6,192.5L423.8,193.8L421.7,191.7L420.0,188.8Z" fill="#5396c8" stroke="#5396c8" stroke-width="0.5" stroke-linejoin="round"/>
<path d="M460.5,195.2L459.0,191.0L457.6,186.2L457.6,183.3L460.0,181.4L463.8,179.0L468.6,178.6L473.3,179.5L478.1,180.0L482.9,180.5L484.8,179.0L482.9,176.7L481.9,173.8L485.7,171.9L491.4,171.0L497.1,170.0L502.0,172.0L508.0,173.0L514.0,175.0L518.0,178.0L524.0,180.0L529.0,182.0L535.0,184.0L538.0,186.0L539.3,185.0L535.8,189.7L533.5,192.0L530.0,196.1L532.3,200.2L530.0,203.7L525.3,206.6L521.3,208.9L522.4,213.0L524.2,215.9L523.6,215.6L520.1,215.9L517.8,216.5L515.4,213.0L511.3,214.8L507.8,215.9L503.8,215.9L505.7,213.8L501.9,212.4L498.1,210.0L494.8,207.1L491.9,205.2L489.5,202.9L486.7,201.9L483.8,202.4L481.9,204.3L479.5,203.8L477.6,202.4L475.7,202.9L473.8,203.8L471.9,202.4L469.5,200.0L467.6,197.6L468.6,195.2L471.9,193.3L471.4,191.4L467.6,191.0L463.8,192.4Z" fill="#fee08f" stroke="#fee08f" stroke-width="0.5" stroke-linejoin="round"/>
<path d="M475.7,202.9L477.6,202.4L479.5,203.8L481.9,204.3L483.8,202.4L486.7,201.9L489.5,202.9L491.9,205.2L494.8,207.1L498.1,210.0L501.9,212.4L505.7,213.8L504.8,215.7L502.4,216.7L501.0,219.5L498.1,220.0L496.2,218.1L495.2,216.7L491.4,215.7L487.6,213.8L483.3,213.3L480.0,214.8L478.6,214.8L477.6,211.9L475.7,208.6L478.1,206.7L477.6,204.3Z" fill="#e34a33" stroke="#e34a33" stroke-width="0.5" stroke-linejoin="round"/>
<path d="M458.1,210.5L460.5,211.1L463.8,209.8L466.2,211.1L468.6,212.4L470.5,214.8L474.3,216.7L477.6,216.7L478.6,214.8L480.0,214.8L483.3,213.3L487.6,213.8L491.4,215.7L495.2,216.7L496.2,218.1L496.2,220.6L496.8,224.1L496.2,228.2L498.5,231.1L499.7,235.2L502.0,238.7L503.8,242.2L501.4,245.1L503.2,246.8L501.5,247.0L500.0,247.0L495.0,246.0L491.0,245.5L490.0,244.0L489.0,242.5L486.0,244.0L482.0,244.0L479.0,242.0L476.0,239.0L474.0,236.0L471.5,234.0L470.0,234.5L469.0,233.5L468.0,230.0L465.5,225.5L463.5,222.5L462.0,219.5L459.5,216.5L459.5,215.7L458.6,212.9Z" fill="#f78c55" stroke="#f78c55" stroke-width="0.5" stroke-linejoin="round"/>
<path d="M496.2,220.6L500.3,218.3L503.8,215.9L507.8,215.9L511.3,214.8L515.4,213.0L517.8,216.5L520.1,215.9L523.6,215.6L523.0,216.5L518.9,217.7L517.8,220.0L516.6,223.5L517.2,225.3L514.3,229.3L511.3,231.1L509.0,234.6L504.3,235.8L499.7,235.2L498.5,231.1L496.2,228.2L496.8,224.1Z" fill="#d7191c" stroke="#d7191c" stroke-width="0.5" stroke-linejoin="round"/>
<path d="M523.6,215.6L525.9,218.3L530.0,220.0L531.8,221.8L527.7,222.3L524.8,222.9L526.5,225.8L528.8,229.3L526.5,232.8L524.2,236.3L521.3,239.3L518.9,242.8L520.1,245.7L522.4,249.2L518.3,249.8L513.7,247.4L509.0,246.8L503.2,246.8L501.4,245.1L503.8,242.2L502.0,238.7L499.7,235.2L504.3,235.8L509.0,234.6L511.3,231.1L514.3,229.3L517.2,225.3L516.6,223.5L517.8,220.0L518.9,217.7L523.0,216.5Z" fill="#fee08f" stroke="#fee08f" stroke-width="0.5" stroke-linejoin="round"/>
<path d="M419.3,208.7L420.7,207.0L423.3,206.0L425.3,206.7L428.0,205.3L431.3,204.0L434.0,203.3L437.3,203.7L440.7,204.3L444.0,205.3L446.7,205.7L449.3,205.0L450.3,204.0L452.4,205.2L455.7,206.0L456.7,208.1L458.6,209.5L458.1,210.5L458.6,212.9L459.5,215.7L459.5,216.5L456.0,215.8L453.5,216.5L449.0,217.0L445.0,218.0L441.5,219.5L441.7,218.0L441.0,218.7L440.0,217.3L438.3,217.0L436.0,218.0L433.3,218.3L431.3,217.7L429.3,217.3L427.3,218.0L425.3,217.3L423.3,216.3L421.3,214.7L420.0,213.0L419.3,211.0Z" fill="#fee08f" stroke="#fee08f" stroke-width="0.5" stroke-linejoin="round"/>
<path d="M418.7,205.0L419.7,203.3L421.3,203.7L422.3,205.0L420.7,206.0L419.3,207.0L418.3,206.3Z" fill="#fee08f" stroke="#fee08f" stroke-width="0.5" stroke-linejoin="round"/>
<path d="M450.0,200.3L454.3,201.0L459.0,202.4L460.5,203.8L461.4,205.4L458.6,206.0L455.7,205.7L452.4,205.2L450.0,203.3Z" fill="#fee08f" stroke="#fee08f" stroke-width="0.5" stroke-linejoin="round"/>
<path d="M455.7,206.0L458.6,206.2L460.5,208.1L461.9,210.5L460.5,211.0L458.6,209.5L456.7,208.1Z" fill="#5396c8" stroke="#5396c8" stroke-width="0.5" stroke-linejoin="round"/>
<path d="M460.5,203.8L462.9,204.3L465.0,203.3L466.7,205.2L468.6,206.7L468.1,209.5L468.6,211.9L466.2,211.0L463.8,209.5L461.9,210.5L460.5,208.1L461.4,205.4Z" fill="#fee08f" stroke="#fee08f" stroke-width="0.5" stroke-linejoin="round"/>
<path d="M441.5,219.5L445.0,218.0L449.0,217.0L453.5,216.5L453.5,221.0L451.0,223.5L448.5,225.5L446.0,226.5L443.0,227.5L442.0,225.0L442.5,222.5Z" fill="#e34a33" stroke="#e34a33" stroke-width="0.5" stroke-linejoin="round"/>
<path d="M448.5,225.5L451.0,223.5L453.5,221.0L453.5,217.0L456.0,215.8L459.5,216.5L462.0,219.5L463.5,222.5L465.5,225.5L468.0,230.0L469.0,234.0L467.0,236.0L463.0,236.5L458.0,234.5L453.0,231.5L448.5,229.0L447.5,227.5Z" fill="#5396c8" stroke="#5396c8" stroke-width="0.5" stroke-linejoin="round"/>
<path d="M441.5,228.5L443.0,227.5L446.0,226.5L448.5,225.5L447.5,227.5L448.5,229.0L447.5,231.0L446.0,234.0L443.0,235.0L440.5,236.5L441.0,232.5Z" fill="#f78c55" stroke="#f78c55" stroke-width="0.5" stroke-linejoin="round"/>
<path d="M440.0,224.0L442.0,223.0L442.2,225.5L441.5,228.5L441.0,232.5L440.5,236.0L439.5,233.0L439.0,229.0Z" fill="#2c7bb6" stroke="#2c7bb6" stroke-width="0.5" stroke-linejoin="round"/>
<path d="M441.0,222.0L442.5,221.5L442.5,223.5L441.2,224.2Z" fill="#5396c8" stroke="#5396c8" stroke-width="0.5" stroke-linejoin="round"/>
<path d="M440.5,236.5L443.0,235.0L446.0,234.0L447.5,231.0L448.5,229.0L453.0,231.5L458.0,234.5L463.0,236.5L467.0,236.0L469.0,234.5L470.5,237.0L472.5,240.0L474.5,243.0L476.5,245.0L477.5,244.5L478.5,246.0L478.5,248.0L479.5,249.5L482.0,250.5L484.5,250.0L486.5,248.0L488.0,245.0L487.5,249.5L487.0,253.0L488.5,255.0L488.0,259.0L486.0,262.0L482.0,264.0L483.0,265.0L483.5,267.0L482.5,269.0L482.0,272.0L480.0,273.0L477.0,274.5L473.0,276.5L469.0,278.0L465.0,279.0L462.0,279.8L461.0,277.0L460.0,273.0L459.0,269.0L457.5,265.0L460.0,269.5L457.5,266.0L454.5,262.0L452.5,258.0L451.0,254.0L448.5,249.5L446.0,245.0L443.0,240.0Z" fill="#d7191c" stroke="#d7191c" stroke-width="0.5" stroke-linejoin="round"/>
<path d="M488.0,245.0L489.0,246.5L489.5,249.0L492.0,251.5L495.0,253.0L498.0,255.0L496.0,258.0L494.0,262.0L491.0,266.0L488.0,268.0L484.5,269.5L483.5,267.0L483.0,265.0L482.0,264.0L486.0,262.0L488.0,259.0L488.5,255.0L487.0,253.0L487.5,249.5Z" fill="#e34a33" stroke="#e34a33" stroke-width="0.5" stroke-linejoin="round"/>
<path d="M540.0,185.0L548.0,181.0L558.0,182.0L560.0,179.0L568.0,180.0L578.0,183.0L590.0,184.0L590.0,183.0L594.0,183.0L597.0,183.0L598.0,180.0L600.0,176.0L604.0,174.4L610.0,175.6L617.0,179.0L623.0,183.0L620.7,181.7L626.0,185.0L630.7,187.7L634.0,187.0L637.3,187.7L636.7,192.3L637.3,196.3L635.3,199.0L636.0,202.3L633.3,204.3L630.7,206.3L628.7,209.0L626.0,210.3L623.3,209.0L622.0,207.0L619.3,207.0L616.7,209.0L615.3,211.0L618.0,213.0L620.7,215.0L624.0,214.3L626.7,215.7L624.7,218.3L622.7,221.0L625.3,223.7L628.7,227.0L631.3,231.0L632.7,235.0L633.3,239.0L632.0,243.0L630.0,247.7L627.3,251.0L624.7,253.7L622.0,255.0L622.0,253.7L619.3,255.0L615.3,257.0L611.3,258.3L608.7,256.3L606.0,253.7L602.0,251.7L598.7,253.0L596.7,255.0L593.3,254.3L590.7,257.0L588.7,255.0L584.7,251.7L582.7,248.3L583.3,244.3L582.0,239.7L579.3,239.0L579.6,239.8L577.8,238.1L575.5,236.3L570.8,238.1L566.2,238.9L561.5,239.8L556.8,239.3L551.0,237.5L545.2,235.2L540.5,232.8L536.4,229.9L537.0,227.6L535.3,224.7L533.5,221.2L528.8,218.8L524.2,215.9L522.4,213.0L521.3,208.9L525.3,206.6L530.0,203.7L532.3,200.2L530.0,196.1L533.5,192.0L535.8,189.7Z" fill="#d7191c" stroke="#d7191c" stroke-width="0.5" stroke-linejoin="round"/>
<path d="M540.0,185.0L548.0,181.0L558.0,182.0L560.0,179.0L568.0,180.0L578.0,183.0L590.0,184.0L590.0,183.0L594.0,183.0L596.7,185.7L600.0,188.3L604.7,188.3L607.3,190.3L603.3,192.3L599.3,193.7L596.7,196.3L594.0,199.7L590.0,201.0L586.0,203.0L578.0,202.0L568.0,200.0L560.0,197.0L550.0,194.0L548.0,190.0L543.0,188.0Z" fill="#2c7bb6" stroke="#2c7bb6" stroke-width="0.5" stroke-linejoin="round"/>
<path d="M610.0,261.7L612.7,260.6L614.3,262.3L612.7,264.6L610.3,264.1Z" fill="#d7191c" stroke="#d7191c" stroke-width="0.5" stroke-linejoin="round"/>
<path d="M634.7,247.7L636.4,247.0L636.7,251.0L635.3,254.3L634.0,252.3Z" fill="#2c7bb6" stroke="#2c7bb6" stroke-width="0.5" stroke-linejoin="round"/>
<path d="M531.8,221.8L533.5,221.2L535.3,224.7L537.0,227.6L536.4,229.9L540.5,232.8L545.2,235.2L551.0,237.5L556.8,239.3L561.5,239.8L566.2,238.9L570.8,238.1L575.5,236.3L577.8,238.1L579.6,239.8L579.3,239.0L576.7,242.3L575.3,245.7L573.3,249.7L572.3,255.0L572.1,256.6L570.3,253.8L569.1,251.5L570.3,249.5L569.9,247.7L567.1,247.1L564.5,245.8L562.5,244.3L560.8,244.9L561.2,247.1L562.1,249.1L563.3,252.5L564.0,255.0L562.0,255.7L560.0,258.3L558.0,261.0L555.3,263.7L552.0,267.7L548.7,271.0L546.7,275.0L546.0,280.3L545.3,285.7L543.3,288.3L541.3,291.0L538.0,285.0L535.3,279.0L532.7,273.7L530.7,268.3L528.7,263.0L527.3,259.0L526.0,256.3L523.3,257.0L520.0,253.7L518.0,249.7L518.3,249.8L522.4,249.2L520.1,245.7L518.9,242.8L521.3,239.3L524.2,236.3L526.5,232.8L528.8,229.3L526.5,225.8L524.8,222.9L527.7,222.3Z" fill="#5396c8" stroke="#5396c8" stroke-width="0.5" stroke-linejoin="round"/>
<path d="M546.7,288.3L548.7,287.7L550.7,291.7L550.7,295.7L548.7,297.0L547.1,294.3Z" fill="#5396c8" stroke="#5396c8" stroke-width="0.5" stroke-linejoin="round"/>
<path d="M560.8,244.9L562.5,244.3L564.5,245.8L567.1,247.1L569.9,247.7L570.3,249.5L569.1,251.5L570.3,253.8L572.1,256.6L571.5,257.0L569.6,254.1L567.9,253.3L566.7,255.3L564.5,254.9L563.3,252.5L562.1,249.1L561.2,247.1Z" fill="#d7191c" stroke="#d7191c" stroke-width="0.5" stroke-linejoin="round"/>
<path d="M579.3,239.0L582.0,239.7L583.3,244.3L582.7,248.3L584.7,251.7L588.7,255.0L590.7,257.0L588.7,259.7L586.0,261.7L584.7,265.0L586.7,268.3L588.7,273.7L590.0,279.0L591.1,283.0L589.7,283.7L588.7,279.7L586.7,275.0L584.7,270.3L582.0,271.0L578.7,270.3L578.0,267.0L576.0,263.7L574.0,259.7L572.0,256.3L572.0,253.7L573.3,249.7L575.3,245.7L576.7,242.3Z" fill="#d7191c" stroke="#d7191c" stroke-width="0.5" stroke-linejoin="round"/>
<path d="M586.0,261.7L588.7,259.7L590.7,261.0L592.7,265.7L596.7,266.3L600.7,267.7L603.3,271.0L604.0,274.3L600.7,275.0L598.0,276.3L597.3,279.7L594.0,279.0L592.7,281.0L592.0,283.7L590.7,287.7L592.0,291.0L594.7,294.3L598.0,296.3L596.7,297.7L593.3,295.7L590.7,292.3L588.7,289.0L589.7,283.7L591.1,283.0L590.0,279.0L588.7,273.7L586.7,268.3L584.7,265.0Z" fill="#fee08f" stroke="#fee08f" stroke-width="0.5" stroke-linejoin="round"/>
<path d="M590.7,257.0L593.3,254.3L596.7,255.0L598.7,253.0L602.0,251.7L606.0,253.7L608.7,256.3L606.7,259.0L604.7,261.0L607.3,265.0L610.7,269.0L613.3,274.3L613.3,280.3L610.7,284.3L607.3,287.0L604.7,289.7L604.0,286.3L603.3,285.7L600.0,284.3L598.0,281.7L597.3,279.7L598.0,276.3L600.7,275.0L604.0,274.3L603.3,271.0L600.7,267.7L596.7,266.3L592.7,265.7L590.7,261.0L588.7,259.7Z" fill="#e34a33" stroke="#e34a33" stroke-width="0.5" stroke-linejoin="round"/>
<path d="M593.3,295.7L596.7,297.7L598.7,301.7L601.3,305.7L603.3,309.0L602.0,309.7L598.7,307.0L596.0,303.0L594.0,299.0Z" fill="#5396c8" stroke="#5396c8" stroke-width="0.5" stroke-linejoin="round"/>
<path d="M628.7,209.0L630.7,206.3L633.3,204.3L636.0,202.3L637.3,201.0L638.7,203.7L636.7,207.0L636.0,210.3L637.3,212.3L634.7,213.7L632.7,213.0L630.7,211.0Z" fill="#e34a33" stroke="#e34a33" stroke-width="0.5" stroke-linejoin="round"/>
<path d="M634.7,213.7L637.3,212.6L640.0,214.3L642.7,217.7L643.3,221.0L640.7,222.3L638.0,221.7L636.7,218.3L635.3,215.7Z" fill="#2c7bb6" stroke="#2c7bb6" stroke-width="0.5" stroke-linejoin="round"/>
<path d="M656.0,195.0L658.0,197.0L662.0,197.7L666.7,199.0L666.0,201.0L662.7,201.7L660.0,203.7L657.3,202.3L656.4,199.7Z" fill="#2c7bb6" stroke="#2c7bb6" stroke-width="0.5" stroke-linejoin="round"/>
<path d="M660.0,205.0L663.3,206.3L665.3,210.3L666.7,214.3L667.3,219.0L666.0,221.7L662.7,223.0L659.3,224.3L656.7,226.3L654.0,225.7L652.7,227.7L651.3,231.0L649.3,229.0L647.3,226.3L650.0,223.0L653.3,221.0L656.7,219.7L658.0,216.3L660.7,213.7L661.3,209.7Z" fill="#2c7bb6" stroke="#2c7bb6" stroke-width="0.5" stroke-linejoin="round"/>
<path d="M582.5,299.2L586.7,298.3L591.7,302.5L596.7,307.5L601.7,313.3L605.0,319.2L607.5,323.3L606.7,328.3L602.5,325.8L598.3,320.8L594.2,314.2L590.0,307.5L585.8,302.5Z" fill="#5396c8" stroke="#5396c8" stroke-width="0.5" stroke-linejoin="round"/>
<path d="M594.2,296.7L597.5,295.8L600.0,299.2L601.7,304.2L603.0,308.3L601.3,309.2L598.3,305.0L595.8,300.8Z" fill="#5396c8" stroke="#5396c8" stroke-width="0.5" stroke-linejoin="round"/>
<path d="M606.7,328.3L611.7,328.7L618.3,330.0L625.0,332.5L628.3,334.2L625.0,335.3L618.3,333.7L611.7,332.0L607.5,330.8Z" fill="#5396c8" stroke="#5396c8" stroke-width="0.5" stroke-linejoin="round"/>
<path d="M631.7,335.3L635.8,334.7L636.3,336.3L632.5,336.7Z" fill="#5396c8" stroke="#5396c8" stroke-width="0.5" stroke-linejoin="round"/>
<path d="M637.5,336.7L640.8,337.0L639.2,338.3Z" fill="#5396c8" stroke="#5396c8" stroke-width="0.5" stroke-linejoin="round"/>
<path d="M641.7,334.7L645.8,334.2L645.0,335.8Z" fill="#5396c8" stroke="#5396c8" stroke-width="0.5" stroke-linejoin="round"/>
<path d="M646.7,338.3L650.8,335.8L655.0,334.2L655.8,335.3L651.7,337.5L648.3,339.7Z" fill="#5396c8" stroke="#5396c8" stroke-width="0.5" stroke-linejoin="round"/>
<path d="M614.2,310.0L616.7,307.5L620.8,306.7L625.0,303.3L628.3,299.2L631.7,295.0L635.8,297.5L637.5,299.2L634.2,302.5L635.0,306.7L636.7,310.8L634.2,315.8L630.8,320.8L628.3,323.3L624.2,321.7L620.0,320.0L616.7,317.5L615.0,314.2Z" fill="#5396c8" stroke="#5396c8" stroke-width="0.5" stroke-linejoin="round"/>
<path d="M625.8,300.0L628.3,298.7L628.7,300.8L626.7,302.0Z" fill="#d7191c" stroke="#d7191c" stroke-width="0.5" stroke-linejoin="round"/>
<path d="M639.2,311.7L643.3,310.0L649.2,309.2L651.7,308.7L650.8,310.8L645.8,312.5L642.5,314.2L644.2,317.5L647.5,318.3L645.8,320.8L643.3,321.7L645.8,325.8L645.0,327.5L641.7,325.0L640.8,320.8L639.2,326.7L637.5,323.3L638.3,317.5Z" fill="#5396c8" stroke="#5396c8" stroke-width="0.5" stroke-linejoin="round"/>
<path d="M657.5,307.5L659.2,308.3L659.7,312.5L658.3,315.0L657.2,311.7Z" fill="#5396c8" stroke="#5396c8" stroke-width="0.5" stroke-linejoin="round"/>
<path d="M637.5,265.0L640.8,264.2L641.7,268.3L640.8,272.5L645.0,275.0L648.3,277.5L650.8,280.0L649.2,281.7L645.8,280.0L641.7,278.3L639.2,275.0L637.0,270.8Z" fill="#5396c8" stroke="#5396c8" stroke-width="0.5" stroke-linejoin="round"/>
<path d="M642.5,282.5L645.8,281.7L648.3,284.2L646.7,287.5L644.2,285.8Z" fill="#5396c8" stroke="#5396c8" stroke-width="0.5" stroke-linejoin="round"/>
<path d="M648.3,288.3L651.7,286.7L653.7,290.8L654.2,295.0L651.7,297.5L649.2,294.2L645.8,293.3L644.2,290.8L647.5,290.3Z" fill="#5396c8" stroke="#5396c8" stroke-width="0.5" stroke-linejoin="round"/>
<path d="M632.5,290.0L635.0,286.7L637.5,283.3L638.0,284.7L635.8,288.0L633.7,290.8Z" fill="#5396c8" stroke="#5396c8" stroke-width="0.5" stroke-linejoin="round"/>
<path d="M665.0,315.0L668.3,313.7L672.5,315.0L671.7,318.3L675.0,320.0L679.2,317.5L683.3,317.0L688.0,320.0L687.5,326.7L687.0,335.8L683.3,334.7L679.2,333.3L680.8,330.8L678.3,327.5L673.3,325.0L670.0,321.7L667.5,319.2Z" fill="#5396c8" stroke="#5396c8" stroke-width="0.5" stroke-linejoin="round"/>
<path d="M688.0,320.0L693.3,321.7L698.3,325.0L702.5,328.3L703.3,332.5L706.7,336.7L709.2,340.3L705.0,338.3L701.7,335.0L697.5,333.3L693.3,335.0L690.0,336.7L687.0,335.8L687.5,326.7Z" fill="#2c7bb6" stroke="#2c7bb6" stroke-width="0.5" stroke-linejoin="round"/>
<path d="M704.2,327.0L708.3,327.5L712.5,325.0L714.2,320.8L715.0,322.5L713.7,326.7L709.2,329.2L705.0,328.7Z" fill="#2c7bb6" stroke="#2c7bb6" stroke-width="0.5" stroke-linejoin="round"/>
<path d="M653.3,321.3L656.7,320.3L663.3,320.8L662.5,322.0L656.7,322.0Z" fill="#5396c8" stroke="#5396c8" stroke-width="0.5" stroke-linejoin="round"/>
<path d="M672.5,326.7L673.7,327.5L673.3,330.0L672.2,329.2Z" fill="#5396c8" stroke="#5396c8" stroke-width="0.5" stroke-linejoin="round"/>
<path d="M620.0,370.8L625.0,367.5L632.5,365.8L639.2,362.5L643.3,356.7L647.5,352.5L653.3,350.0L657.5,350.8L660.8,346.7L665.8,343.0L670.8,344.2L675.8,345.8L674.2,349.2L672.5,352.5L677.5,355.8L682.5,358.3L685.0,355.0L686.7,348.3L689.2,341.7L690.8,341.7L692.5,348.3L695.0,354.2L695.8,360.8L699.2,365.8L702.5,371.7L705.0,377.5L705.3,383.3L703.3,389.2L700.0,394.2L695.8,400.0L690.8,405.8L685.8,410.0L680.0,412.5L674.2,414.2L669.2,413.3L665.8,410.8L664.2,405.8L662.5,403.3L660.0,404.2L657.5,402.0L653.3,397.5L648.3,395.8L641.7,397.5L635.0,399.2L629.2,400.8L624.2,402.5L619.2,404.2L615.0,403.3L615.0,400.8L617.5,397.5L618.3,391.7L616.7,385.8L617.5,380.0L618.3,375.0Z" fill="#2c7bb6" stroke="#2c7bb6" stroke-width="0.5" stroke-linejoin="round"/>
<path d="M669.7,420.0L673.3,419.2L676.7,420.0L674.2,423.3L670.8,426.3L668.3,425.3Z" fill="#2c7bb6" stroke="#2c7bb6" stroke-width="0.5" stroke-linejoin="round"/>
<path d="M739.0,403.0L741.0,404.0L742.0,408.0L746.0,411.0L744.0,414.0L740.0,417.0L736.0,420.0L733.0,421.0L735.0,417.0L738.0,413.0L739.0,408.0Z" fill="#2c7bb6" stroke="#2c7bb6" stroke-width="0.5" stroke-linejoin="round"/>
<path d="M706.0,433.0L709.0,430.0L715.0,427.0L722.0,423.0L728.0,419.0L731.0,420.0L726.0,425.0L720.0,428.0L714.0,431.6L709.0,434.4Z" fill="#2c7bb6" stroke="#2c7bb6" stroke-width="0.5" stroke-linejoin="round"/>
<path d="M734.0,365.6L736.0,365.0L740.0,370.0L739.0,371.6L736.0,369.0Z" fill="url(#hatch2)" stroke="#dcdcdc" stroke-width="0.5"/>
<path d="M743.4,351.0L744.6,351.6L745.0,356.0L743.8,355.6Z" fill="#2c7bb6" stroke="#2c7bb6" stroke-width="0.5" stroke-linejoin="round"/>
<path d="M766.0,358.4L770.0,356.0L773.6,355.0L772.0,357.6L768.0,360.0Z" fill="#2c7bb6" stroke="#2c7bb6" stroke-width="0.5" stroke-linejoin="round"/>
<path d="M719.0,326.0L721.0,328.0L720.0,329.0Z" fill="#2c7bb6" stroke="#2c7bb6" stroke-width="0.5" stroke-linejoin="round"/>
<path d="M724.0,331.0L728.0,333.0L727.0,334.0Z" fill="#2c7bb6" stroke="#2c7bb6" stroke-width="0.5" stroke-linejoin="round"/>
<path d="M730.0,336.0L734.0,339.0L733.0,340.0Z" fill="#2c7bb6" stroke="#2c7bb6" stroke-width="0.5" stroke-linejoin="round"/>
<path d="M350.4,219.6L352.5,219.2L355.8,220.0L358.8,220.4L362.5,218.3L367.5,217.1L372.5,216.7L377.5,216.2L381.2,215.8L383.8,215.0L385.4,215.8L386.7,216.7L385.8,219.2L386.7,221.7L387.1,224.2L388.3,226.7L391.7,227.1L395.0,227.9L398.3,230.0L401.7,231.7L405.0,232.5L406.0,232.3L408.0,228.3L410.7,227.3L413.3,227.7L416.0,228.3L418.0,229.7L418.0,231.0L420.0,230.3L423.3,230.7L426.7,231.3L429.3,231.0L432.0,230.3L434.7,230.7L437.3,231.0L439.3,231.3L439.5,233.0L440.5,236.5L439.0,239.5L437.0,237.5L435.0,234.5L436.0,238.0L439.0,242.5L443.0,249.0L445.0,253.0L446.5,257.0L448.0,260.5L450.0,264.0L451.5,268.0L454.0,272.0L456.5,275.0L458.0,276.0L460.0,279.0L461.0,280.5L462.0,281.5L461.8,283.5L464.0,285.5L468.0,285.0L473.0,283.5L477.0,282.0L480.0,281.5L479.5,285.0L478.5,290.0L476.5,295.0L474.0,300.0L470.0,305.0L466.0,309.0L462.0,313.0L459.0,316.0L456.5,319.0L454.5,322.5L453.0,325.0L453.0,328.7L453.7,332.7L454.3,336.7L455.0,340.0L455.7,344.7L455.0,348.7L453.7,352.0L451.0,355.3L447.7,358.0L444.3,360.7L442.3,364.0L441.7,367.3L442.3,370.0L443.3,372.0L442.0,376.0L439.3,378.0L436.7,380.0L436.0,383.3L434.7,386.7L432.0,390.7L430.0,394.0L427.3,396.7L424.0,399.3L420.0,401.3L416.0,400.9L410.7,401.3L406.7,403.3L404.7,402.7L402.7,400.0L403.3,396.7L402.7,393.3L400.7,388.7L398.7,383.3L396.7,378.0L395.3,372.7L393.3,367.3L391.3,362.0L389.6,356.7L389.3,350.0L391.0,350.7L392.3,346.0L393.7,342.0L393.7,336.7L392.3,331.3L391.7,326.7L389.0,322.7L386.3,318.0L385.0,311.0L384.5,308.5L385.0,305.5L384.0,303.0L381.5,301.5L378.0,302.0L376.0,301.0L374.5,298.5L372.0,297.0L368.0,297.0L364.5,298.0L361.0,299.5L358.5,300.5L356.5,299.5L353.0,299.0L349.0,299.5L346.0,300.5L344.5,301.5L341.5,299.0L338.0,296.0L335.5,293.5L333.0,290.0L330.5,287.0L328.0,284.0L325.5,281.5L324.5,279.0L323.5,276.5L322.5,274.0L324.0,271.0L325.5,268.0L326.0,264.0L325.5,259.0L325.0,255.0L325.3,256.7L327.5,251.7L330.0,246.7L333.3,242.5L338.3,238.3L340.0,234.2L342.5,230.0L345.8,225.0L346.2,225.0L348.3,222.1Z" fill="#fee08f" stroke="#fee08f" stroke-width="0.5" stroke-linejoin="round"/>
<path d="M350.4,219.6L352.5,219.2L355.8,220.0L358.8,220.4L359.2,223.3L360.0,226.7L359.6,228.3L356.7,229.6L353.8,231.2L351.2,233.8L347.5,235.4L343.3,239.2L338.3,238.3L340.0,234.2L342.5,230.0L345.8,225.0L346.2,225.0L348.3,222.1Z" fill="#f78c55" stroke="#f78c55" stroke-width="0.5" stroke-linejoin="round"/>
<path d="M338.3,238.3L343.3,239.2L343.3,241.7L336.7,242.5L335.8,247.5L333.3,248.3L332.5,255.0L325.8,256.7L325.3,256.7L327.5,251.7L330.0,246.7L333.3,242.5Z" fill="#e34a33" stroke="#e34a33" stroke-width="0.5" stroke-linejoin="round"/>
<path d="M381.2,215.8L383.8,215.0L385.4,215.8L386.7,216.7L385.8,219.2L386.7,221.7L387.1,224.2L388.3,226.7L387.1,228.3L385.8,230.0L385.0,232.5L384.2,230.0L382.1,227.1L380.0,225.0L380.4,222.5L380.8,219.2Z" fill="#e34a33" stroke="#e34a33" stroke-width="0.5" stroke-linejoin="round"/>
<path d="M388.3,226.7L391.7,227.1L395.0,227.9L398.3,230.0L401.7,231.7L405.0,232.5L406.0,232.3L408.0,228.3L410.7,227.3L413.3,227.7L416.0,228.3L418.0,229.7L417.5,229.5L418.2,237.0L418.7,247.5L419.0,255.7L419.7,261.0L417.5,261.0L410.0,257.2L402.5,253.5L397.2,252.0L393.3,251.7L389.2,248.3L385.8,245.8L384.2,240.8L384.2,236.7L384.6,233.3L385.0,232.5L385.8,230.0L387.1,228.3Z" fill="#d7191c" stroke="#d7191c" stroke-width="0.5" stroke-linejoin="round"/>
<path d="M349.2,248.3L355.0,251.7L363.3,256.7L372.5,262.5L381.7,256.7L389.2,251.7L393.3,251.7L396.7,253.3L397.5,260.0L396.7,268.3L395.0,273.3L395.0,277.5L396.0,279.5L394.0,278.5L390.0,277.5L386.0,279.0L382.0,278.5L378.0,277.5L374.0,277.0L371.5,279.0L369.0,280.0L367.5,281.5L365.0,283.5L363.5,284.5L360.0,284.2L356.5,284.5L355.5,286.5L353.0,287.0L351.0,285.0L349.0,285.5L347.0,284.0L344.5,285.0L342.5,284.0L341.5,281.2L338.0,281.0L336.5,278.0L336.0,276.0L336.5,273.5L350.0,272.8L350.2,265.0L349.7,260.0Z" fill="#d7191c" stroke="#d7191c" stroke-width="0.5" stroke-linejoin="round"/>
<path d="M419.7,255.7L445.2,255.7L446.7,259.5L448.2,264.0L449.7,267.7L452.0,270.0L454.2,273.0L457.2,276.0L459.5,278.2L461.0,280.2L458.7,279.7L455.0,276.7L452.0,275.2L449.0,275.2L446.0,276.7L443.7,280.5L442.2,284.2L440.0,288.0L439.7,291.7L441.5,294.7L443.7,297.0L443.0,300.0L440.0,302.2L435.5,302.7L431.0,300.7L427.2,298.5L423.5,294.7L420.5,291.0L418.2,288.0L417.5,284.2L415.2,281.2L414.5,277.5L416.7,273.7L417.5,269.2L417.5,265.5L419.7,261.0Z" fill="#d7191c" stroke="#d7191c" stroke-width="0.5" stroke-linejoin="round"/>
<path d="M461.8,283.5L464.0,285.5L468.0,285.0L473.0,283.5L477.0,282.0L480.0,281.5L479.5,285.0L478.5,290.0L476.5,295.0L474.0,300.0L470.0,305.0L466.0,309.0L462.0,313.0L459.0,316.0L458.0,312.0L458.0,306.0L459.0,301.5L462.0,300.0L465.5,298.0L468.5,295.0L471.5,292.0L467.0,290.0L463.0,287.5L460.0,284.5Z" fill="#d7191c" stroke="#d7191c" stroke-width="0.5" stroke-linejoin="round"/>
<path d="M445.0,298.5L447.5,301.0L450.0,302.0L452.5,303.5L455.5,302.5L459.0,301.5L458.0,306.0L458.0,312.0L459.0,316.0L456.5,319.0L454.5,322.5L453.0,325.0L450.0,322.0L446.0,319.0L441.5,315.0L442.0,312.0L443.5,309.0L442.5,305.0L443.0,301.0Z" fill="#5396c8" stroke="#5396c8" stroke-width="0.5" stroke-linejoin="round"/>
<path d="M322.5,274.0L324.0,271.5L326.5,270.0L329.5,269.5L332.0,271.0L334.0,273.0L336.0,276.0L337.0,280.0L335.0,280.0L332.0,279.8L329.0,280.0L325.5,280.2L324.5,279.0L328.0,278.5L331.0,277.5L328.0,276.8L324.5,277.2L323.5,276.5Z" fill="#5396c8" stroke="#5396c8" stroke-width="0.5" stroke-linejoin="round"/>
<path d="M325.0,280.5L329.0,280.0L331.5,280.2L330.5,282.0L328.5,283.5L326.5,282.5Z" fill="#d7191c" stroke="#d7191c" stroke-width="0.5" stroke-linejoin="round"/>
<path d="M328.5,283.5L330.5,282.0L332.0,280.5L335.0,280.5L338.0,281.0L341.5,281.2L342.5,284.0L343.5,287.0L344.0,290.0L343.0,293.0L341.5,291.5L340.5,289.0L339.0,287.0L337.5,286.5L335.0,286.5L333.0,288.5L331.5,287.0Z" fill="#e34a33" stroke="#e34a33" stroke-width="0.5" stroke-linejoin="round"/>
<path d="M337.5,294.0L339.0,291.0L340.5,290.0L342.0,292.5L343.5,294.0L345.0,297.0L345.5,300.0L344.5,301.5L341.5,299.0L338.5,296.0Z" fill="#5396c8" stroke="#5396c8" stroke-width="0.5" stroke-linejoin="round"/>
<path d="M356.5,284.5L360.0,284.2L363.5,284.5L363.8,288.0L364.5,292.0L365.0,295.5L364.5,298.0L361.0,299.5L358.5,300.5L356.5,299.0L355.8,296.0L356.5,292.0L356.8,288.0Z" fill="#2c7bb6" stroke="#2c7bb6" stroke-width="0.5" stroke-linejoin="round"/>
<path d="M413.7,347.3L417.7,345.3L419.7,342.0L424.3,342.7L428.3,344.7L430.3,346.7L431.7,344.0L428.3,342.7L428.3,336.7L431.0,334.7L435.0,335.3L438.3,336.7L440.3,340.0L439.7,343.3L439.0,347.3L437.7,349.3L433.7,350.7L431.0,352.7L427.7,355.3L425.0,358.0L421.7,359.3L417.7,358.0L414.3,356.7L413.4,352.0Z" fill="#5396c8" stroke="#5396c8" stroke-width="0.5" stroke-linejoin="round"/>
<path d="M438.3,336.7L440.3,338.0L441.7,342.0L442.3,346.0L444.3,350.0L444.3,354.7L443.0,356.7L441.4,354.0L441.0,350.7L439.7,348.7L439.0,347.3L439.7,343.3L440.3,340.0Z" fill="#5396c8" stroke="#5396c8" stroke-width="0.5" stroke-linejoin="round"/>
<path d="M389.6,356.7L396.0,357.3L402.7,358.7L408.7,359.1L410.7,359.6L414.7,358.8L418.7,358.3L414.9,359.1L410.7,360.1L410.4,363.3L410.0,369.3L408.0,370.0L408.3,376.7L409.6,382.7L413.3,380.0L416.7,378.7L420.0,380.0L422.7,376.7L425.3,373.3L428.7,371.3L432.7,371.1L434.0,374.7L434.7,378.7L436.0,383.3L434.7,386.7L432.0,390.7L430.0,394.0L427.3,396.7L424.0,399.3L420.0,401.3L416.0,400.9L410.7,401.3L406.7,403.3L404.7,402.7L402.7,400.0L403.3,396.7L402.7,393.3L400.7,388.7L398.7,383.3L396.7,378.0L395.3,372.7L393.3,367.3L391.3,362.0Z" fill="#2c7bb6" stroke="#2c7bb6" stroke-width="0.5" stroke-linejoin="round"/>
<path d="M410.7,360.1L414.9,359.1L418.7,358.3L420.7,361.3L422.7,364.0L425.3,366.7L427.3,370.0L428.7,371.3L425.3,373.3L422.7,376.7L420.0,380.0L416.7,378.7L413.3,380.0L409.6,382.7L408.3,376.7L408.0,370.0L410.0,369.3L410.4,363.3Z" fill="#5396c8" stroke="#5396c8" stroke-width="0.5" stroke-linejoin="round"/>
<path d="M431.7,380.7L433.3,379.6L434.9,381.3L434.4,383.6L432.3,383.6Z" fill="#e34a33" stroke="#e34a33" stroke-width="0.5" stroke-linejoin="round"/>
<path d="M422.9,390.0L426.0,387.3L428.0,389.3L425.3,392.7Z" fill="#5396c8" stroke="#5396c8" stroke-width="0.5" stroke-linejoin="round"/>
<path d="M475.7,344.7L477.0,346.7L477.7,352.0L476.3,356.7L474.3,362.0L472.3,367.3L471.0,370.0L475.3,359.3L473.3,364.7L472.0,370.0L470.0,375.3L467.3,378.7L464.0,379.3L462.0,377.3L461.3,372.7L461.1,370.0L462.7,366.0L463.3,361.3L464.0,356.7L464.3,360.7L463.7,356.7L467.0,354.0L471.0,351.3L473.7,348.0Z" fill="#d7191c" stroke="#d7191c" stroke-width="0.5" stroke-linejoin="round"/>
<g fill="none" stroke="#222" stroke-opacity="0.5" stroke-width="0.45" stroke-linejoin="round">
<path d="M48.0,146.4L60.0,137.6L62.0,141.0L67.6,142.4L67.0,144.4L62.0,145.0L57.0,148.0L52.0,144.4Z M68.0,132.6L72.0,131.4L72.6,132.2L69.0,133.4Z M159.2,131.3L163.3,128.3L168.3,126.3L175.0,126.7L177.5,128.7L183.3,129.7L189.2,127.5L193.7,128.0L194.7,132.5L200.0,134.2L202.5,136.3L200.0,139.3L192.5,138.0L185.8,138.7L179.2,138.0L172.5,138.7L168.7,137.0L167.5,134.2L163.3,133.3Z M175.0,122.5L180.8,120.3L187.5,119.7L190.0,121.3L195.0,121.7L200.0,123.3L196.7,125.0L190.0,125.0L185.8,125.3L181.7,123.3L177.5,123.7Z M194.2,118.3L200.0,116.7L201.7,118.0L197.5,119.2Z M206.7,121.7L211.7,120.0L216.7,120.8L220.0,123.3L216.7,125.0L210.8,125.0L207.5,123.7Z M209.2,116.7L214.2,116.3L215.8,117.5L211.7,118.0Z M217.5,117.5L221.7,116.7L224.2,118.7L220.8,119.7Z M225.0,115.0L230.0,113.3L235.0,114.2L236.7,112.0L245.0,110.8L256.7,110.0L270.0,109.7L277.5,110.3L266.7,113.0L256.7,115.8L250.0,117.5L246.7,119.7L240.0,120.8L233.3,121.7L228.3,120.0L231.7,117.5L226.7,117.5Z M221.7,122.5L228.3,121.7L236.7,122.5L240.0,124.2L233.3,125.3L225.0,125.0Z M201.7,129.2L206.7,127.5L210.8,128.3L211.7,132.5L208.3,133.3L206.7,135.8L203.3,134.2L200.0,130.8Z M216.7,130.8L220.8,128.3L228.3,127.5L236.7,128.0L240.8,130.0L245.8,130.8L250.0,134.2L251.7,138.3L256.7,141.7L254.2,143.7L250.0,145.0L248.3,143.0L245.8,144.7L247.5,148.3L244.2,151.7L240.8,153.3L237.5,150.8L233.3,150.0L229.2,148.3L225.8,147.5L225.0,145.8L229.2,143.7L233.3,144.2L236.7,141.7L237.5,139.2L233.3,137.5L230.8,140.0L228.3,139.2L227.0,135.8L221.7,135.0L217.5,133.3Z M81.2,138.8L87.1,137.1L92.9,134.7L101.2,132.9L107.6,132.0L112.9,133.9L120.0,134.7L128.0,136.4L134.0,137.0L142.0,136.0L150.0,135.2L150.0,134.2L158.3,134.2L167.5,137.5L168.7,139.7L176.7,139.7L186.7,140.0L198.3,140.5L203.3,138.0L207.5,133.7L213.3,132.5L215.0,138.3L218.3,140.8L223.3,137.5L226.3,135.8L228.3,137.5L226.7,141.7L223.3,144.2L216.7,145.3L212.5,145.8L209.2,147.5L205.0,149.2L198.3,152.5L191.7,155.8L189.2,158.3L188.7,162.5L191.7,165.0L195.8,166.7L200.0,168.3L204.2,170.0L203.3,172.5L203.3,176.7L205.0,179.2L207.5,177.5L209.2,175.0L208.3,170.8L211.7,169.2L215.8,166.7L218.3,164.2L217.5,160.8L219.2,157.5L220.0,154.2L228.3,152.0L232.5,153.7L235.0,156.7L234.2,160.0L236.7,161.7L240.8,158.3L243.3,156.7L245.0,160.0L244.1,160.0L245.9,164.7L250.6,169.4L253.5,172.9L253.9,175.9L251.8,178.2L248.8,179.4L245.9,180.9L241.2,182.4L236.5,182.1L231.8,183.5L227.1,185.3L222.9,187.6L220.0,190.4L223.5,188.5L228.2,186.4L232.9,184.9L234.7,185.5L232.9,187.6L231.8,190.6L235.3,192.4L239.4,190.8L240.0,192.9L235.3,195.3L229.4,197.4L225.9,199.1L225.3,197.9L228.2,195.3L224.1,194.1L220.0,197.6L216.5,200.0L214.7,202.9L215.3,204.1L210.6,205.3L207.1,206.5L204.1,209.4L200.6,212.9L199.4,215.3L198.8,217.6L198.2,220.6L194.1,223.5L189.4,226.5L184.7,229.4L184.0,230.0L183.0,234.0L184.0,240.0L183.0,246.0L181.0,247.0L179.0,242.0L178.0,237.0L174.0,235.6L170.0,234.4L165.0,234.0L160.0,236.0L154.0,237.0L149.0,239.0L145.8,241.7L144.6,245.4L141.7,242.9L140.4,239.2L138.3,235.4L135.8,235.0L133.8,236.7L131.7,235.4L130.8,232.9L128.3,230.4L125.0,230.0L122.5,230.8L117.5,230.4L113.3,229.3L110.0,227.9L105.8,227.5L105.4,226.2L103.3,223.8L100.4,222.1L99.6,218.3L99.2,215.0L99.2,215.0L98.8,211.7L99.2,207.9L100.8,205.0L102.5,201.7L104.6,198.8L106.7,195.8L108.8,192.9L110.0,190.4L110.8,188.3L112.9,189.6L113.8,187.5L115.0,185.4L111.7,182.1L109.6,180.4L109.6,178.3L110.0,175.0L110.3,174.7L111.0,172.0L110.7,169.3L111.0,166.0L110.7,163.3L108.3,162.3L105.7,161.3L103.0,158.7L99.0,157.7L95.0,156.7L92.9,155.9L89.4,156.5L87.1,155.3L85.3,156.5L82.4,158.2L78.8,160.6L74.1,162.9L69.4,165.3L63.5,167.1L57.6,168.5L50.6,170.4L44.1,171.8L43.8,170.8L50.6,168.8L57.6,166.8L63.5,164.7L68.2,162.4L70.6,161.2L67.6,161.2L64.1,161.2L61.2,160.0L60.2,157.4L61.8,154.7L65.3,152.4L70.6,150.8L75.3,149.4L79.4,147.6L80.6,146.5L75.3,147.3L71.2,147.1L70.6,145.3L74.1,144.1L78.8,142.9L81.8,141.8Z M242.4,188.2L245.9,185.3L249.4,181.2L251.8,179.4L252.9,182.4L255.3,184.7L255.9,188.2L254.1,191.2L252.4,190.0L250.6,188.8L248.2,189.4L245.9,188.8Z M103.0,173.3L105.0,172.3L106.7,172.3L105.0,174.3L104.3,176.7L103.3,177.0Z M106.7,181.7L108.8,180.8L111.2,182.5L112.9,185.0L112.1,186.7L110.0,185.4L107.9,183.3Z M105.8,227.5L110.0,227.9L113.3,229.3L117.5,230.4L122.5,230.8L125.0,230.0L128.3,230.4L130.8,232.9L131.7,235.4L133.8,236.7L135.8,235.0L138.3,235.4L140.4,239.2L141.7,242.9L144.6,245.4L143.3,250.0L142.5,254.2L143.3,258.3L145.0,262.5L146.2,263.3L148.3,265.0L150.8,264.8L154.2,263.8L156.7,262.1L157.9,258.3L160.8,257.1L164.2,256.5L166.7,257.1L165.4,260.0L163.8,262.5L162.5,264.6L161.2,265.4L160.4,265.8L155.8,266.2L155.4,267.9L157.1,269.2L155.8,270.4L153.3,271.2L152.1,273.3L151.7,273.8L150.0,272.1L147.5,270.8L144.2,270.8L141.7,271.7L140.0,270.8L136.0,268.0L129.0,264.0L125.4,262.5L123.8,259.2L124.6,255.8L123.3,252.5L120.8,248.3L117.9,244.6L115.4,240.0L113.3,235.0L112.9,230.8L110.4,230.0L109.6,231.2L110.0,234.2L111.2,237.5L112.5,241.7L113.8,245.8L115.0,249.2L116.5,251.7L115.4,253.3L113.8,250.8L111.2,248.3L110.8,245.0L108.8,242.5L106.7,240.4L108.8,238.3L107.5,235.8L106.2,231.7Z M155.8,266.2L160.4,265.8L160.0,267.9L160.8,269.6L160.4,270.8L159.6,272.1L158.3,274.2L157.1,275.8L156.2,276.0L153.8,275.0L151.7,273.8L152.1,273.3L153.3,271.2L155.8,270.4L157.1,269.2L155.4,267.9Z M160.4,265.8L161.2,265.4L162.3,266.2L161.8,268.8L160.8,270.0L160.0,267.9Z M160.4,271.0L163.3,270.8L167.5,271.0L170.8,271.8L172.9,273.8L170.0,274.6L167.5,275.8L165.0,277.1L163.3,278.8L162.5,277.9L161.8,276.8L160.8,276.0L158.8,275.0L159.6,272.1Z M157.1,276.0L158.5,274.8L160.8,276.0L161.8,276.8L162.3,278.2L160.4,278.2L157.9,277.3Z M163.3,278.8L165.0,277.1L167.5,275.8L170.0,274.6L172.9,273.9L172.1,276.7L171.7,280.0L171.0,283.3L169.6,283.8L167.1,282.9L165.0,280.8Z M166.2,283.8L167.1,282.9L169.6,283.8L171.0,283.5L172.1,285.4L173.3,287.5L172.9,289.6L171.7,290.8L170.8,289.2L169.2,287.9L167.5,286.7L166.5,285.4Z M172.9,289.6L173.3,287.5L175.0,288.8L177.5,289.2L179.6,288.3L181.2,287.9L183.3,288.8L185.0,290.8L185.7,292.5L184.6,293.3L183.3,291.7L182.1,290.0L180.4,289.6L178.8,290.8L178.3,293.3L177.1,293.8L175.8,292.1L173.8,291.2L171.7,290.8Z M171.2,255.4L172.9,253.8L175.8,252.7L179.2,252.3L182.5,253.2L185.4,255.0L188.3,256.7L191.7,258.3L194.2,259.2L194.6,260.4L191.7,260.8L188.8,260.7L187.5,260.0L188.8,259.0L186.2,257.9L184.2,256.2L181.7,255.0L178.3,254.0L175.0,254.2L172.5,255.8Z M185.0,264.8L186.7,264.2L189.2,264.8L189.8,265.8L187.5,266.2L185.4,265.7Z M196.7,261.2L198.3,260.7L200.4,261.2L199.6,263.3L199.8,265.4L197.5,265.7L194.6,265.4L194.0,264.3L196.7,264.2L198.3,263.8L197.9,262.5Z M200.4,261.2L202.5,260.8L204.6,261.7L206.7,263.3L207.5,264.6L205.8,264.8L203.3,265.0L201.2,266.2L199.8,265.4L199.6,263.3Z M186.4,243.1L189.5,242.1L190.6,244.0L188.1,244.2Z M186.7,247.4L188.1,246.8L188.8,250.2L187.4,250.6Z M57.1,149.4L59.4,149.2L61.8,150.4L59.4,150.8Z M55.3,157.4L57.6,157.1L58.2,157.9L56.2,158.6Z M70.0,164.5L74.1,162.9L76.5,163.3L73.5,164.9L70.8,165.6Z M8.5,259.5L11.5,260.0L11.6,262.5L9.6,263.6L8.4,262.0Z M5.4,256.0L7.5,256.8L7.3,257.7L5.3,256.9Z M8.0,257.3L9.6,257.6L9.5,258.5L8.0,258.2Z M2.4,254.6L3.5,254.8L3.4,255.6L2.4,255.4Z M208.8,147.9L211.8,145.0L215.9,145.6L220.0,148.5L217.6,150.3L212.9,149.7Z M211.8,151.5L215.3,150.6L216.5,151.8L212.9,152.6Z M217.6,152.6L219.4,152.1L219.8,153.5Z M185.0,291.7L186.7,287.5L190.8,284.2L195.8,282.5L199.2,280.8L200.0,282.5L201.7,282.0L203.7,284.2L208.3,285.8L215.0,285.0L220.0,285.8L223.3,285.0L224.2,287.5L224.7,290.8L227.5,293.3L230.0,296.7L234.2,297.5L238.0,297.5L240.8,298.0L243.3,300.0L244.2,302.5L246.7,308.3L249.2,311.7L251.7,314.2L256.7,315.8L261.7,318.3L266.7,319.7L273.3,321.7L279.2,325.0L282.5,328.3L283.0,333.3L280.8,338.3L277.5,343.3L275.0,348.3L274.2,355.0L274.2,350.0L274.2,356.7L272.5,363.3L270.0,370.0L266.7,372.5L261.7,374.2L257.5,377.5L255.0,380.8L254.7,385.8L252.5,390.0L250.0,394.2L247.5,397.5L245.8,400.8L243.3,403.3L240.0,403.0L236.7,400.8L235.3,401.7L237.5,405.0L240.8,408.3L239.7,412.5L235.8,414.2L230.8,415.0L230.8,419.2L227.5,420.0L226.7,422.5L229.2,423.3L227.5,426.7L225.8,430.0L226.5,430.0L224.7,432.4L226.5,434.7L228.8,437.1L228.2,440.0L226.5,442.9L225.3,445.3L226.5,447.6L228.2,449.4L230.6,451.8L233.5,453.5L236.5,454.4L237.1,455.3L232.9,456.7L230.0,456.5L225.3,454.7L220.6,452.4L216.5,449.4L213.5,445.9L211.2,441.8L210.6,437.6L208.2,433.5L208.8,428.8L207.6,424.7L207.6,420.0L206.7,416.7L204.7,410.8L205.8,405.0L205.3,398.3L204.7,388.3L205.3,378.3L205.0,368.3L204.2,360.0L201.7,357.5L195.0,353.3L189.2,350.0L187.5,350.0L184.2,343.3L180.8,336.7L177.5,331.7L175.3,327.5L175.8,323.3L176.7,320.0L176.3,315.8L177.5,311.7L180.8,309.2L182.5,305.8L184.2,301.7L184.7,296.7Z M185.0,291.7L186.7,287.5L190.8,284.2L195.8,282.5L199.2,280.8L200.0,282.5L197.5,285.0L195.8,287.5L196.3,290.0L197.5,293.3L201.7,295.0L206.7,297.5L208.3,300.8L207.5,304.2L209.2,307.5L207.5,309.2L203.3,309.2L202.5,311.7L203.0,315.8L201.7,320.0L200.0,323.3L200.8,320.0L199.2,318.3L195.0,317.5L190.8,313.7L189.2,312.5L185.0,310.8L180.8,309.2L182.5,305.8L184.2,301.7L184.7,296.7Z M180.8,309.2L185.0,310.8L189.2,312.5L190.8,313.7L188.3,316.7L185.0,320.0L181.7,323.3L178.3,325.3L176.3,323.7L175.8,323.3L176.7,320.0L176.3,315.8L177.5,311.7Z M190.8,313.7L195.0,317.5L199.2,318.3L200.8,320.0L200.0,323.3L195.8,325.8L194.2,330.0L193.3,333.3L195.8,336.7L200.0,335.8L201.7,339.2L205.8,339.2L205.0,343.3L205.3,348.3L204.2,353.3L204.2,358.3L203.3,360.8L198.3,359.2L192.5,355.0L187.5,350.0L184.2,343.3L180.8,336.7L177.5,331.7L175.3,327.5L175.8,323.3L176.3,323.7L178.3,325.3L181.7,323.3L185.0,320.0L188.3,316.7Z M205.8,339.2L210.0,337.5L214.2,340.0L217.5,343.3L221.7,345.0L225.8,348.3L228.3,353.3L227.5,354.2L230.8,358.3L232.5,363.3L227.5,363.7L223.3,365.0L221.7,369.2L218.3,371.3L214.2,370.3L210.8,372.5L208.7,370.0L205.8,365.0L204.2,360.0L204.2,358.3L204.2,353.3L205.3,348.3L205.0,343.3Z M232.5,363.3L234.2,369.2L237.5,371.7L239.2,375.8L241.7,377.5L243.3,381.7L240.0,384.2L235.8,385.0L233.3,382.5L234.2,378.3L230.8,375.0L225.8,373.3L222.5,370.8L221.7,369.2L223.3,365.0L227.5,363.7Z M195.8,287.5L197.5,284.7L201.7,282.0L203.7,284.2L208.3,285.8L215.0,285.0L220.0,285.8L223.3,285.0L224.2,287.5L224.7,290.8L223.0,293.3L222.0,296.7L223.0,299.7L219.2,300.8L215.8,302.5L217.5,305.8L214.2,309.2L210.8,310.8L209.2,307.5L207.5,304.2L208.3,300.8L206.7,297.5L201.7,295.0L197.5,293.3L196.3,290.0Z M321.2,145.2L324.7,143.5L330.4,143.8L336.0,143.1L338.9,145.2L337.5,147.7L333.2,149.2L328.3,149.7L324.0,148.7L321.9,147.3Z M378.1,116.1L383.1,114.8L388.8,114.4L395.4,113.9L401.2,114.4L399.5,116.1L394.6,117.2L397.1,119.4L393.8,119.7L391.3,118.1L388.0,120.5L383.9,118.9L380.6,117.7Z M382.5,163.8L380.4,164.6L378.8,166.2L378.5,168.8L379.2,171.8L376.7,172.9L374.2,174.2L372.1,175.4L371.2,177.5L369.2,179.2L367.1,180.0L365.0,181.2L362.5,182.1L359.6,183.3L359.3,185.0L357.1,185.8L354.6,186.0L353.8,187.1L356.2,188.3L358.8,189.6L360.0,191.7L360.4,194.2L360.0,196.7L360.0,199.2L356.7,199.6L351.7,199.2L346.7,198.8L343.3,200.4L343.8,202.5L344.2,205.0L343.8,207.9L342.5,210.4L342.9,212.1L344.6,213.8L343.8,215.8L345.8,216.2L349.2,217.5L350.8,219.0L352.5,217.9L355.0,217.1L358.3,215.8L360.8,214.2L362.5,212.1L362.9,209.6L364.2,207.1L366.7,205.4L369.2,203.3L369.2,202.5L371.7,200.8L375.0,200.0L377.5,199.6L379.2,198.8L381.2,197.9L383.3,199.2L385.0,201.2L386.7,203.3L389.2,205.0L392.5,207.1L395.0,208.8L396.7,210.4L397.1,212.5L397.9,214.2L399.2,212.9L399.6,210.8L398.5,209.6L400.0,209.0L401.7,208.5L402.1,207.7L399.2,206.2L396.7,204.6L395.0,202.5L393.3,200.4L391.7,198.3L390.0,197.1L388.8,195.8L389.2,194.2L390.4,193.8L390.4,193.8L391.0,194.2L392.5,196.0L395.0,198.0L397.5,199.8L400.0,201.2L402.0,202.5L403.2,204.0L404.0,206.0L404.2,208.0L404.8,209.5L405.0,209.3L406.3,210.3L408.0,212.3L409.3,215.0L411.0,217.0L412.3,217.3L412.7,215.0L414.3,214.0L413.7,211.7L412.3,210.0L411.7,208.3L413.3,207.7L414.3,206.7L416.7,206.0L418.3,206.3L419.3,207.0L420.7,206.0L422.3,205.0L421.3,203.3L422.0,201.3L421.7,198.7L423.0,196.3L424.0,195.0L423.8,193.8L424.6,192.5L423.3,190.0L420.8,187.5L418.8,186.7L415.8,187.1L412.5,187.5L410.0,186.7L409.2,185.0L408.8,183.3L410.0,180.8L409.2,177.9L409.6,175.0L409.2,173.3L410.8,171.7L412.9,169.6L414.2,168.8L416.2,167.9L415.4,163.3L415.0,159.2L415.0,158.3L411.7,158.8L408.3,159.2L406.2,160.0L406.7,161.7L407.9,162.9L408.3,164.2L406.2,164.2L404.6,165.0L403.3,165.8L403.8,167.9L404.2,170.0L402.9,169.8L401.2,170.4L401.2,171.2L398.3,170.7L395.8,170.8L393.3,171.7L390.8,172.9L388.3,172.5L385.8,172.1L383.8,171.7L382.1,172.1L382.1,170.7L381.7,168.8L382.1,166.7L383.3,165.0Z M372.1,153.8L373.3,152.1L376.7,150.4L380.0,148.3L382.9,145.8L385.4,142.9L387.9,140.0L391.7,137.1L395.8,135.0L400.0,134.0L404.2,132.9L408.3,132.7L411.7,132.9L414.2,134.0L413.3,135.4L411.7,137.5L412.9,139.2L414.6,141.7L415.0,144.6L415.8,147.1L417.5,149.6L419.2,151.7L417.9,153.8L416.2,155.8L415.0,157.5L411.7,157.3L408.3,157.7L405.8,158.3L403.8,157.1L402.1,155.0L401.2,152.5L401.7,150.0L402.9,148.3L405.0,146.7L406.7,145.4L405.4,144.3L402.9,144.8L400.8,146.2L400.0,148.3L398.3,150.0L396.2,151.7L394.6,153.8L394.6,155.8L396.7,157.1L397.1,159.2L395.4,160.8L393.8,162.9L392.9,165.0L390.8,167.1L389.2,168.8L387.1,168.3L386.2,166.2L385.0,164.6L383.8,162.5L382.9,160.4L381.2,160.0L378.8,161.7L375.8,162.1L373.8,160.4L372.9,157.5L372.3,155.0Z M384.2,168.3L386.2,167.7L387.1,169.0L386.2,170.4L384.6,170.0Z M343.8,177.1L344.6,174.2L345.8,171.7L348.3,170.0L350.8,170.4L351.7,172.1L350.8,174.2L350.4,176.2L348.3,177.5L345.8,178.3Z M351.7,164.6L353.3,162.1L356.7,161.2L357.9,162.5L357.1,164.2L358.8,165.4L357.9,167.9L359.6,170.0L361.7,172.9L363.8,174.6L365.8,176.7L365.4,178.8L364.2,180.0L360.8,180.4L357.5,181.2L354.2,182.1L352.1,182.1L353.8,180.4L356.2,179.2L353.3,178.3L353.8,175.8L355.4,174.6L354.2,172.5L355.8,171.2L353.8,169.6L352.5,167.9L351.7,166.2Z M390.0,213.8L393.3,214.2L396.2,213.3L396.5,215.0L395.0,216.7L392.5,215.8L390.4,215.0Z M380.7,206.2L382.5,205.4L383.5,207.1L383.2,209.6L381.7,210.8L380.7,209.6Z M381.2,201.7L382.5,200.8L382.9,202.9L382.1,204.6L381.2,203.8Z M414.0,220.0L416.0,219.8L419.3,220.3L419.7,221.3L417.0,221.5L414.3,221.0Z M433.2,221.3L435.3,220.3L437.7,219.7L437.3,220.7L436.0,221.7L434.0,222.3Z M397.2,185.8L399.5,184.5L402.5,184.2L406.0,184.0L408.2,184.2L408.5,185.5L407.0,186.2L404.5,186.8L402.0,187.0L399.5,187.5L397.8,187.0Z M396.8,189.2L397.8,187.2L399.5,187.5L402.0,187.0L404.5,186.8L407.0,186.2L408.5,187.0L408.0,188.5L407.0,190.0L406.0,191.5L404.5,192.2L402.2,192.8L400.0,192.8L398.0,191.8L397.0,190.5Z M402.0,193.2L403.5,192.5L404.8,193.2L406.0,194.5L407.5,195.5L409.0,196.2L410.0,197.2L409.8,198.8L410.5,200.0L409.8,201.2L409.0,202.0L407.8,201.0L406.5,200.2L405.0,200.8L404.2,199.8L404.0,198.2L403.2,197.0L402.8,195.2Z M395.8,195.5L398.0,195.0L400.5,195.2L402.8,195.5L403.2,197.0L403.8,198.2L403.2,199.5L402.2,200.2L401.0,199.2L399.5,198.2L397.8,197.2L396.5,196.5Z M405.5,200.8L407.0,200.5L408.0,201.2L407.5,202.5L406.2,202.8L405.5,202.0Z M406.8,203.2L408.5,202.8L410.5,203.0L411.2,204.0L410.5,205.0L408.5,205.5L407.0,205.0Z M404.2,203.5L405.2,202.5L406.2,203.0L406.8,204.0L407.0,205.2L406.5,207.0L405.8,208.2L405.0,207.2L404.5,205.5Z M401.2,170.4L402.9,169.8L405.4,170.2L405.8,171.2L401.7,171.5Z M411.7,137.5L413.3,135.4L414.2,134.0L416.7,135.2L421.7,136.2L426.7,137.5L430.8,139.2L432.7,141.2L432.1,143.2L430.0,142.7L426.7,142.1L423.3,142.3L421.0,142.7L422.5,143.8L424.6,145.0L426.2,146.8L427.1,148.8L428.8,146.8L431.7,147.1L435.0,145.8L432.0,143.0L436.0,141.0L440.0,139.0L446.0,140.0L452.0,137.0L460.0,136.0L466.0,137.0L472.0,135.0L474.0,130.0L478.0,129.0L480.0,133.0L482.0,136.0L483.6,131.0L486.0,136.0L489.0,143.0L490.0,141.0L488.0,136.0L487.0,131.0L489.0,130.0L496.0,126.0L504.0,124.0L512.0,122.0L520.0,120.0L528.0,122.0L536.0,124.0L540.0,127.0L548.0,127.0L558.0,128.0L564.0,126.0L572.0,130.0L578.0,132.0L584.0,131.0L590.0,130.0L590.0,131.0L598.0,130.0L606.0,131.0L616.0,133.0L626.0,134.0L630.0,136.0L638.0,136.0L646.0,137.0L650.0,135.0L656.0,135.6L664.0,137.0L670.0,141.0L676.0,145.0L679.0,148.0L685.6,152.4L679.0,153.0L678.0,157.0L672.0,156.0L666.0,159.0L668.0,163.0L674.0,166.0L675.0,173.0L674.0,180.0L668.0,174.0L662.0,168.0L659.0,164.0L660.0,158.0L658.0,153.0L654.0,156.0L650.0,155.0L648.0,157.0L649.0,160.0L644.0,160.0L638.0,159.6L630.0,161.0L627.0,164.0L624.0,170.0L628.0,172.0L634.0,173.0L639.0,177.0L643.0,182.0L646.0,187.0L646.0,194.0L644.0,200.0L639.0,201.0L637.0,198.0L637.6,193.0L634.0,187.0L630.0,188.0L623.0,183.0L617.0,179.0L610.0,175.6L604.0,174.4L600.0,176.0L598.0,180.0L597.0,183.0L596.0,183.2L590.0,183.6L580.0,184.2L570.0,183.4L568.0,180.0L560.0,179.0L558.0,182.0L548.0,181.0L540.0,185.0L538.0,186.0L535.0,184.0L529.0,182.0L524.0,180.0L518.0,178.0L514.0,175.0L508.0,173.0L502.0,172.0L497.1,170.0L491.4,171.0L485.7,171.9L481.9,173.8L482.9,176.7L484.8,179.0L482.9,180.5L478.1,180.0L473.3,179.5L468.6,178.6L463.8,179.0L460.0,181.4L457.6,183.3L457.6,186.2L459.0,191.0L460.5,195.2L461.0,197.6L462.9,200.0L465.0,203.3L462.9,204.3L460.5,203.8L459.0,202.4L454.3,201.0L450.0,200.3L446.7,199.2L443.3,197.5L440.0,195.4L440.4,194.6L441.7,193.3L442.9,191.7L442.5,190.8L441.7,189.2L443.8,186.7L442.9,183.8L439.2,182.9L435.0,181.2L431.7,179.6L429.6,177.1L425.8,176.7L423.3,179.2L420.0,179.0L415.8,178.8L411.7,178.3L409.2,177.9L409.6,175.0L409.2,173.3L410.8,171.7L412.9,169.6L414.2,168.8L416.2,167.9L415.4,163.3L415.0,159.2L415.0,158.3L415.0,157.5L416.2,155.8L417.9,153.8L419.2,151.7L417.5,149.6L415.8,147.1L415.0,144.6L414.6,141.7L412.9,139.2Z M426.7,113.5L430.8,112.8L435.8,113.5L432.5,114.4Z M446.5,131.2L449.0,125.5L453.9,123.0L460.5,121.4L467.1,120.5L465.4,122.2L458.8,123.8L453.9,126.3L451.4,129.6L453.9,132.6L449.8,132.9Z M494.0,114.0L502.0,113.6L508.0,116.0L516.0,117.6L510.0,118.4L500.0,116.0Z M574.0,123.0L580.0,122.0L588.0,124.0L596.0,124.4L590.0,125.6L582.0,125.0Z M586.0,128.0L590.0,127.6L591.0,129.6L587.0,129.6Z M655.6,132.0L658.0,132.4L657.2,133.4Z M639.0,173.0L642.0,175.0L647.0,180.0L652.0,186.0L657.0,192.4L655.0,192.0L650.0,187.0L645.0,182.0L641.0,177.0Z M409.2,177.9L411.7,178.3L415.8,178.8L420.0,179.0L423.3,179.2L425.8,176.7L429.6,177.1L431.7,179.6L435.0,181.2L439.2,182.9L442.9,183.8L443.8,186.7L441.7,189.2L440.4,190.4L438.3,191.2L435.8,191.7L435.0,192.9L437.1,193.8L435.8,195.0L433.8,196.2L432.5,195.4L430.8,193.3L428.3,192.1L426.2,191.7L423.8,193.8L424.6,192.5L423.3,190.0L420.8,187.5L418.8,186.7L415.8,187.1L412.5,187.5L410.0,186.7L409.2,185.0L408.8,183.3L410.0,180.8Z M418.8,186.7L420.8,187.5L423.3,190.0L424.6,192.5L423.8,193.8L421.7,191.7L420.0,188.8Z M460.5,195.2L459.0,191.0L457.6,186.2L457.6,183.3L460.0,181.4L463.8,179.0L468.6,178.6L473.3,179.5L478.1,180.0L482.9,180.5L484.8,179.0L482.9,176.7L481.9,173.8L485.7,171.9L491.4,171.0L497.1,170.0L502.0,172.0L508.0,173.0L514.0,175.0L518.0,178.0L524.0,180.0L529.0,182.0L535.0,184.0L538.0,186.0L539.3,185.0L535.8,189.7L533.5,192.0L530.0,196.1L532.3,200.2L530.0,203.7L525.3,206.6L521.3,208.9L522.4,213.0L524.2,215.9L523.6,215.6L520.1,215.9L517.8,216.5L515.4,213.0L511.3,214.8L507.8,215.9L503.8,215.9L505.7,213.8L501.9,212.4L498.1,210.0L494.8,207.1L491.9,205.2L489.5,202.9L486.7,201.9L483.8,202.4L481.9,204.3L479.5,203.8L477.6,202.4L475.7,202.9L473.8,203.8L471.9,202.4L469.5,200.0L467.6,197.6L468.6,195.2L471.9,193.3L471.4,191.4L467.6,191.0L463.8,192.4Z M475.7,202.9L477.6,202.4L479.5,203.8L481.9,204.3L483.8,202.4L486.7,201.9L489.5,202.9L491.9,205.2L494.8,207.1L498.1,210.0L501.9,212.4L505.7,213.8L504.8,215.7L502.4,216.7L501.0,219.5L498.1,220.0L496.2,218.1L495.2,216.7L491.4,215.7L487.6,213.8L483.3,213.3L480.0,214.8L478.6,214.8L477.6,211.9L475.7,208.6L478.1,206.7L477.6,204.3Z M458.1,210.5L460.5,211.1L463.8,209.8L466.2,211.1L468.6,212.4L470.5,214.8L474.3,216.7L477.6,216.7L478.6,214.8L480.0,214.8L483.3,213.3L487.6,213.8L491.4,215.7L495.2,216.7L496.2,218.1L496.2,220.6L496.8,224.1L496.2,228.2L498.5,231.1L499.7,235.2L502.0,238.7L503.8,242.2L501.4,245.1L503.2,246.8L501.5,247.0L500.0,247.0L495.0,246.0L491.0,245.5L490.0,244.0L489.0,242.5L486.0,244.0L482.0,244.0L479.0,242.0L476.0,239.0L474.0,236.0L471.5,234.0L470.0,234.5L469.0,233.5L468.0,230.0L465.5,225.5L463.5,222.5L462.0,219.5L459.5,216.5L459.5,215.7L458.6,212.9Z M496.2,220.6L500.3,218.3L503.8,215.9L507.8,215.9L511.3,214.8L515.4,213.0L517.8,216.5L520.1,215.9L523.6,215.6L523.0,216.5L518.9,217.7L517.8,220.0L516.6,223.5L517.2,225.3L514.3,229.3L511.3,231.1L509.0,234.6L504.3,235.8L499.7,235.2L498.5,231.1L496.2,228.2L496.8,224.1Z M523.6,215.6L525.9,218.3L530.0,220.0L531.8,221.8L527.7,222.3L524.8,222.9L526.5,225.8L528.8,229.3L526.5,232.8L524.2,236.3L521.3,239.3L518.9,242.8L520.1,245.7L522.4,249.2L518.3,249.8L513.7,247.4L509.0,246.8L503.2,246.8L501.4,245.1L503.8,242.2L502.0,238.7L499.7,235.2L504.3,235.8L509.0,234.6L511.3,231.1L514.3,229.3L517.2,225.3L516.6,223.5L517.8,220.0L518.9,217.7L523.0,216.5Z M419.3,208.7L420.7,207.0L423.3,206.0L425.3,206.7L428.0,205.3L431.3,204.0L434.0,203.3L437.3,203.7L440.7,204.3L444.0,205.3L446.7,205.7L449.3,205.0L450.3,204.0L452.4,205.2L455.7,206.0L456.7,208.1L458.6,209.5L458.1,210.5L458.6,212.9L459.5,215.7L459.5,216.5L456.0,215.8L453.5,216.5L449.0,217.0L445.0,218.0L441.5,219.5L441.7,218.0L441.0,218.7L440.0,217.3L438.3,217.0L436.0,218.0L433.3,218.3L431.3,217.7L429.3,217.3L427.3,218.0L425.3,217.3L423.3,216.3L421.3,214.7L420.0,213.0L419.3,211.0Z M418.7,205.0L419.7,203.3L421.3,203.7L422.3,205.0L420.7,206.0L419.3,207.0L418.3,206.3Z M450.0,200.3L454.3,201.0L459.0,202.4L460.5,203.8L461.4,205.4L458.6,206.0L455.7,205.7L452.4,205.2L450.0,203.3Z M455.7,206.0L458.6,206.2L460.5,208.1L461.9,210.5L460.5,211.0L458.6,209.5L456.7,208.1Z M460.5,203.8L462.9,204.3L465.0,203.3L466.7,205.2L468.6,206.7L468.1,209.5L468.6,211.9L466.2,211.0L463.8,209.5L461.9,210.5L460.5,208.1L461.4,205.4Z M441.5,219.5L445.0,218.0L449.0,217.0L453.5,216.5L453.5,221.0L451.0,223.5L448.5,225.5L446.0,226.5L443.0,227.5L442.0,225.0L442.5,222.5Z M448.5,225.5L451.0,223.5L453.5,221.0L453.5,217.0L456.0,215.8L459.5,216.5L462.0,219.5L463.5,222.5L465.5,225.5L468.0,230.0L469.0,234.0L467.0,236.0L463.0,236.5L458.0,234.5L453.0,231.5L448.5,229.0L447.5,227.5Z M441.5,228.5L443.0,227.5L446.0,226.5L448.5,225.5L447.5,227.5L448.5,229.0L447.5,231.0L446.0,234.0L443.0,235.0L440.5,236.5L441.0,232.5Z M440.0,224.0L442.0,223.0L442.2,225.5L441.5,228.5L441.0,232.5L440.5,236.0L439.5,233.0L439.0,229.0Z M441.0,222.0L442.5,221.5L442.5,223.5L441.2,224.2Z M440.5,236.5L443.0,235.0L446.0,234.0L447.5,231.0L448.5,229.0L453.0,231.5L458.0,234.5L463.0,236.5L467.0,236.0L469.0,234.5L470.5,237.0L472.5,240.0L474.5,243.0L476.5,245.0L477.5,244.5L478.5,246.0L478.5,248.0L479.5,249.5L482.0,250.5L484.5,250.0L486.5,248.0L488.0,245.0L487.5,249.5L487.0,253.0L488.5,255.0L488.0,259.0L486.0,262.0L482.0,264.0L483.0,265.0L483.5,267.0L482.5,269.0L482.0,272.0L480.0,273.0L477.0,274.5L473.0,276.5L469.0,278.0L465.0,279.0L462.0,279.8L461.0,277.0L460.0,273.0L459.0,269.0L457.5,265.0L460.0,269.5L457.5,266.0L454.5,262.0L452.5,258.0L451.0,254.0L448.5,249.5L446.0,245.0L443.0,240.0Z M488.0,245.0L489.0,246.5L489.5,249.0L492.0,251.5L495.0,253.0L498.0,255.0L496.0,258.0L494.0,262.0L491.0,266.0L488.0,268.0L484.5,269.5L483.5,267.0L483.0,265.0L482.0,264.0L486.0,262.0L488.0,259.0L488.5,255.0L487.0,253.0L487.5,249.5Z M540.0,185.0L548.0,181.0L558.0,182.0L560.0,179.0L568.0,180.0L578.0,183.0L590.0,184.0L590.0,183.0L594.0,183.0L597.0,183.0L598.0,180.0L600.0,176.0L604.0,174.4L610.0,175.6L617.0,179.0L623.0,183.0L620.7,181.7L626.0,185.0L630.7,187.7L634.0,187.0L637.3,187.7L636.7,192.3L637.3,196.3L635.3,199.0L636.0,202.3L633.3,204.3L630.7,206.3L628.7,209.0L626.0,210.3L623.3,209.0L622.0,207.0L619.3,207.0L616.7,209.0L615.3,211.0L618.0,213.0L620.7,215.0L624.0,214.3L626.7,215.7L624.7,218.3L622.7,221.0L625.3,223.7L628.7,227.0L631.3,231.0L632.7,235.0L633.3,239.0L632.0,243.0L630.0,247.7L627.3,251.0L624.7,253.7L622.0,255.0L622.0,253.7L619.3,255.0L615.3,257.0L611.3,258.3L608.7,256.3L606.0,253.7L602.0,251.7L598.7,253.0L596.7,255.0L593.3,254.3L590.7,257.0L588.7,255.0L584.7,251.7L582.7,248.3L583.3,244.3L582.0,239.7L579.3,239.0L579.6,239.8L577.8,238.1L575.5,236.3L570.8,238.1L566.2,238.9L561.5,239.8L556.8,239.3L551.0,237.5L545.2,235.2L540.5,232.8L536.4,229.9L537.0,227.6L535.3,224.7L533.5,221.2L528.8,218.8L524.2,215.9L522.4,213.0L521.3,208.9L525.3,206.6L530.0,203.7L532.3,200.2L530.0,196.1L533.5,192.0L535.8,189.7Z M540.0,185.0L548.0,181.0L558.0,182.0L560.0,179.0L568.0,180.0L578.0,183.0L590.0,184.0L590.0,183.0L594.0,183.0L596.7,185.7L600.0,188.3L604.7,188.3L607.3,190.3L603.3,192.3L599.3,193.7L596.7,196.3L594.0,199.7L590.0,201.0L586.0,203.0L578.0,202.0L568.0,200.0L560.0,197.0L550.0,194.0L548.0,190.0L543.0,188.0Z M610.0,261.7L612.7,260.6L614.3,262.3L612.7,264.6L610.3,264.1Z M634.7,247.7L636.4,247.0L636.7,251.0L635.3,254.3L634.0,252.3Z M531.8,221.8L533.5,221.2L535.3,224.7L537.0,227.6L536.4,229.9L540.5,232.8L545.2,235.2L551.0,237.5L556.8,239.3L561.5,239.8L566.2,238.9L570.8,238.1L575.5,236.3L577.8,238.1L579.6,239.8L579.3,239.0L576.7,242.3L575.3,245.7L573.3,249.7L572.3,255.0L572.1,256.6L570.3,253.8L569.1,251.5L570.3,249.5L569.9,247.7L567.1,247.1L564.5,245.8L562.5,244.3L560.8,244.9L561.2,247.1L562.1,249.1L563.3,252.5L564.0,255.0L562.0,255.7L560.0,258.3L558.0,261.0L555.3,263.7L552.0,267.7L548.7,271.0L546.7,275.0L546.0,280.3L545.3,285.7L543.3,288.3L541.3,291.0L538.0,285.0L535.3,279.0L532.7,273.7L530.7,268.3L528.7,263.0L527.3,259.0L526.0,256.3L523.3,257.0L520.0,253.7L518.0,249.7L518.3,249.8L522.4,249.2L520.1,245.7L518.9,242.8L521.3,239.3L524.2,236.3L526.5,232.8L528.8,229.3L526.5,225.8L524.8,222.9L527.7,222.3Z M546.7,288.3L548.7,287.7L550.7,291.7L550.7,295.7L548.7,297.0L547.1,294.3Z M560.8,244.9L562.5,244.3L564.5,245.8L567.1,247.1L569.9,247.7L570.3,249.5L569.1,251.5L570.3,253.8L572.1,256.6L571.5,257.0L569.6,254.1L567.9,253.3L566.7,255.3L564.5,254.9L563.3,252.5L562.1,249.1L561.2,247.1Z M579.3,239.0L582.0,239.7L583.3,244.3L582.7,248.3L584.7,251.7L588.7,255.0L590.7,257.0L588.7,259.7L586.0,261.7L584.7,265.0L586.7,268.3L588.7,273.7L590.0,279.0L591.1,283.0L589.7,283.7L588.7,279.7L586.7,275.0L584.7,270.3L582.0,271.0L578.7,270.3L578.0,267.0L576.0,263.7L574.0,259.7L572.0,256.3L572.0,253.7L573.3,249.7L575.3,245.7L576.7,242.3Z M586.0,261.7L588.7,259.7L590.7,261.0L592.7,265.7L596.7,266.3L600.7,267.7L603.3,271.0L604.0,274.3L600.7,275.0L598.0,276.3L597.3,279.7L594.0,279.0L592.7,281.0L592.0,283.7L590.7,287.7L592.0,291.0L594.7,294.3L598.0,296.3L596.7,297.7L593.3,295.7L590.7,292.3L588.7,289.0L589.7,283.7L591.1,283.0L590.0,279.0L588.7,273.7L586.7,268.3L584.7,265.0Z M590.7,257.0L593.3,254.3L596.7,255.0L598.7,253.0L602.0,251.7L606.0,253.7L608.7,256.3L606.7,259.0L604.7,261.0L607.3,265.0L610.7,269.0L613.3,274.3L613.3,280.3L610.7,284.3L607.3,287.0L604.7,289.7L604.0,286.3L603.3,285.7L600.0,284.3L598.0,281.7L597.3,279.7L598.0,276.3L600.7,275.0L604.0,274.3L603.3,271.0L600.7,267.7L596.7,266.3L592.7,265.7L590.7,261.0L588.7,259.7Z M593.3,295.7L596.7,297.7L598.7,301.7L601.3,305.7L603.3,309.0L602.0,309.7L598.7,307.0L596.0,303.0L594.0,299.0Z M628.7,209.0L630.7,206.3L633.3,204.3L636.0,202.3L637.3,201.0L638.7,203.7L636.7,207.0L636.0,210.3L637.3,212.3L634.7,213.7L632.7,213.0L630.7,211.0Z M634.7,213.7L637.3,212.6L640.0,214.3L642.7,217.7L643.3,221.0L640.7,222.3L638.0,221.7L636.7,218.3L635.3,215.7Z M656.0,195.0L658.0,197.0L662.0,197.7L666.7,199.0L666.0,201.0L662.7,201.7L660.0,203.7L657.3,202.3L656.4,199.7Z M660.0,205.0L663.3,206.3L665.3,210.3L666.7,214.3L667.3,219.0L666.0,221.7L662.7,223.0L659.3,224.3L656.7,226.3L654.0,225.7L652.7,227.7L651.3,231.0L649.3,229.0L647.3,226.3L650.0,223.0L653.3,221.0L656.7,219.7L658.0,216.3L660.7,213.7L661.3,209.7Z M582.5,299.2L586.7,298.3L591.7,302.5L596.7,307.5L601.7,313.3L605.0,319.2L607.5,323.3L606.7,328.3L602.5,325.8L598.3,320.8L594.2,314.2L590.0,307.5L585.8,302.5Z M594.2,296.7L597.5,295.8L600.0,299.2L601.7,304.2L603.0,308.3L601.3,309.2L598.3,305.0L595.8,300.8Z M606.7,328.3L611.7,328.7L618.3,330.0L625.0,332.5L628.3,334.2L625.0,335.3L618.3,333.7L611.7,332.0L607.5,330.8Z M631.7,335.3L635.8,334.7L636.3,336.3L632.5,336.7Z M637.5,336.7L640.8,337.0L639.2,338.3Z M641.7,334.7L645.8,334.2L645.0,335.8Z M646.7,338.3L650.8,335.8L655.0,334.2L655.8,335.3L651.7,337.5L648.3,339.7Z M614.2,310.0L616.7,307.5L620.8,306.7L625.0,303.3L628.3,299.2L631.7,295.0L635.8,297.5L637.5,299.2L634.2,302.5L635.0,306.7L636.7,310.8L634.2,315.8L630.8,320.8L628.3,323.3L624.2,321.7L620.0,320.0L616.7,317.5L615.0,314.2Z M625.8,300.0L628.3,298.7L628.7,300.8L626.7,302.0Z M639.2,311.7L643.3,310.0L649.2,309.2L651.7,308.7L650.8,310.8L645.8,312.5L642.5,314.2L644.2,317.5L647.5,318.3L645.8,320.8L643.3,321.7L645.8,325.8L645.0,327.5L641.7,325.0L640.8,320.8L639.2,326.7L637.5,323.3L638.3,317.5Z M657.5,307.5L659.2,308.3L659.7,312.5L658.3,315.0L657.2,311.7Z M637.5,265.0L640.8,264.2L641.7,268.3L640.8,272.5L645.0,275.0L648.3,277.5L650.8,280.0L649.2,281.7L645.8,280.0L641.7,278.3L639.2,275.0L637.0,270.8Z M642.5,282.5L645.8,281.7L648.3,284.2L646.7,287.5L644.2,285.8Z M648.3,288.3L651.7,286.7L653.7,290.8L654.2,295.0L651.7,297.5L649.2,294.2L645.8,293.3L644.2,290.8L647.5,290.3Z M632.5,290.0L635.0,286.7L637.5,283.3L638.0,284.7L635.8,288.0L633.7,290.8Z M665.0,315.0L668.3,313.7L672.5,315.0L671.7,318.3L675.0,320.0L679.2,317.5L683.3,317.0L688.0,320.0L687.5,326.7L687.0,335.8L683.3,334.7L679.2,333.3L680.8,330.8L678.3,327.5L673.3,325.0L670.0,321.7L667.5,319.2Z M688.0,320.0L693.3,321.7L698.3,325.0L702.5,328.3L703.3,332.5L706.7,336.7L709.2,340.3L705.0,338.3L701.7,335.0L697.5,333.3L693.3,335.0L690.0,336.7L687.0,335.8L687.5,326.7Z M704.2,327.0L708.3,327.5L712.5,325.0L714.2,320.8L715.0,322.5L713.7,326.7L709.2,329.2L705.0,328.7Z M653.3,321.3L656.7,320.3L663.3,320.8L662.5,322.0L656.7,322.0Z M672.5,326.7L673.7,327.5L673.3,330.0L672.2,329.2Z M620.0,370.8L625.0,367.5L632.5,365.8L639.2,362.5L643.3,356.7L647.5,352.5L653.3,350.0L657.5,350.8L660.8,346.7L665.8,343.0L670.8,344.2L675.8,345.8L674.2,349.2L672.5,352.5L677.5,355.8L682.5,358.3L685.0,355.0L686.7,348.3L689.2,341.7L690.8,341.7L692.5,348.3L695.0,354.2L695.8,360.8L699.2,365.8L702.5,371.7L705.0,377.5L705.3,383.3L703.3,389.2L700.0,394.2L695.8,400.0L690.8,405.8L685.8,410.0L680.0,412.5L674.2,414.2L669.2,413.3L665.8,410.8L664.2,405.8L662.5,403.3L660.0,404.2L657.5,402.0L653.3,397.5L648.3,395.8L641.7,397.5L635.0,399.2L629.2,400.8L624.2,402.5L619.2,404.2L615.0,403.3L615.0,400.8L617.5,397.5L618.3,391.7L616.7,385.8L617.5,380.0L618.3,375.0Z M669.7,420.0L673.3,419.2L676.7,420.0L674.2,423.3L670.8,426.3L668.3,425.3Z M739.0,403.0L741.0,404.0L742.0,408.0L746.0,411.0L744.0,414.0L740.0,417.0L736.0,420.0L733.0,421.0L735.0,417.0L738.0,413.0L739.0,408.0Z M706.0,433.0L709.0,430.0L715.0,427.0L722.0,423.0L728.0,419.0L731.0,420.0L726.0,425.0L720.0,428.0L714.0,431.6L709.0,434.4Z M743.4,351.0L744.6,351.6L745.0,356.0L743.8,355.6Z M766.0,358.4L770.0,356.0L773.6,355.0L772.0,357.6L768.0,360.0Z M719.0,326.0L721.0,328.0L720.0,329.0Z M724.0,331.0L728.0,333.0L727.0,334.0Z M730.0,336.0L734.0,339.0L733.0,340.0Z M350.4,219.6L352.5,219.2L355.8,220.0L358.8,220.4L362.5,218.3L367.5,217.1L372.5,216.7L377.5,216.2L381.2,215.8L383.8,215.0L385.4,215.8L386.7,216.7L385.8,219.2L386.7,221.7L387.1,224.2L388.3,226.7L391.7,227.1L395.0,227.9L398.3,230.0L401.7,231.7L405.0,232.5L406.0,232.3L408.0,228.3L410.7,227.3L413.3,227.7L416.0,228.3L418.0,229.7L418.0,231.0L420.0,230.3L423.3,230.7L426.7,231.3L429.3,231.0L432.0,230.3L434.7,230.7L437.3,231.0L439.3,231.3L439.5,233.0L440.5,236.5L439.0,239.5L437.0,237.5L435.0,234.5L436.0,238.0L439.0,242.5L443.0,249.0L445.0,253.0L446.5,257.0L448.0,260.5L450.0,264.0L451.5,268.0L454.0,272.0L456.5,275.0L458.0,276.0L460.0,279.0L461.0,280.5L462.0,281.5L461.8,283.5L464.0,285.5L468.0,285.0L473.0,283.5L477.0,282.0L480.0,281.5L479.5,285.0L478.5,290.0L476.5,295.0L474.0,300.0L470.0,305.0L466.0,309.0L462.0,313.0L459.0,316.0L456.5,319.0L454.5,322.5L453.0,325.0L453.0,328.7L453.7,332.7L454.3,336.7L455.0,340.0L455.7,344.7L455.0,348.7L453.7,352.0L451.0,355.3L447.7,358.0L444.3,360.7L442.3,364.0L441.7,367.3L442.3,370.0L443.3,372.0L442.0,376.0L439.3,378.0L436.7,380.0L436.0,383.3L434.7,386.7L432.0,390.7L430.0,394.0L427.3,396.7L424.0,399.3L420.0,401.3L416.0,400.9L410.7,401.3L406.7,403.3L404.7,402.7L402.7,400.0L403.3,396.7L402.7,393.3L400.7,388.7L398.7,383.3L396.7,378.0L395.3,372.7L393.3,367.3L391.3,362.0L389.6,356.7L389.3,350.0L391.0,350.7L392.3,346.0L393.7,342.0L393.7,336.7L392.3,331.3L391.7,326.7L389.0,322.7L386.3,318.0L385.0,311.0L384.5,308.5L385.0,305.5L384.0,303.0L381.5,301.5L378.0,302.0L376.0,301.0L374.5,298.5L372.0,297.0L368.0,297.0L364.5,298.0L361.0,299.5L358.5,300.5L356.5,299.5L353.0,299.0L349.0,299.5L346.0,300.5L344.5,301.5L341.5,299.0L338.0,296.0L335.5,293.5L333.0,290.0L330.5,287.0L328.0,284.0L325.5,281.5L324.5,279.0L323.5,276.5L322.5,274.0L324.0,271.0L325.5,268.0L326.0,264.0L325.5,259.0L325.0,255.0L325.3,256.7L327.5,251.7L330.0,246.7L333.3,242.5L338.3,238.3L340.0,234.2L342.5,230.0L345.8,225.0L346.2,225.0L348.3,222.1Z M350.4,219.6L352.5,219.2L355.8,220.0L358.8,220.4L359.2,223.3L360.0,226.7L359.6,228.3L356.7,229.6L353.8,231.2L351.2,233.8L347.5,235.4L343.3,239.2L338.3,238.3L340.0,234.2L342.5,230.0L345.8,225.0L346.2,225.0L348.3,222.1Z M338.3,238.3L343.3,239.2L343.3,241.7L336.7,242.5L335.8,247.5L333.3,248.3L332.5,255.0L325.8,256.7L325.3,256.7L327.5,251.7L330.0,246.7L333.3,242.5Z M381.2,215.8L383.8,215.0L385.4,215.8L386.7,216.7L385.8,219.2L386.7,221.7L387.1,224.2L388.3,226.7L387.1,228.3L385.8,230.0L385.0,232.5L384.2,230.0L382.1,227.1L380.0,225.0L380.4,222.5L380.8,219.2Z M388.3,226.7L391.7,227.1L395.0,227.9L398.3,230.0L401.7,231.7L405.0,232.5L406.0,232.3L408.0,228.3L410.7,227.3L413.3,227.7L416.0,228.3L418.0,229.7L417.5,229.5L418.2,237.0L418.7,247.5L419.0,255.7L419.7,261.0L417.5,261.0L410.0,257.2L402.5,253.5L397.2,252.0L393.3,251.7L389.2,248.3L385.8,245.8L384.2,240.8L384.2,236.7L384.6,233.3L385.0,232.5L385.8,230.0L387.1,228.3Z M349.2,248.3L355.0,251.7L363.3,256.7L372.5,262.5L381.7,256.7L389.2,251.7L393.3,251.7L396.7,253.3L397.5,260.0L396.7,268.3L395.0,273.3L395.0,277.5L396.0,279.5L394.0,278.5L390.0,277.5L386.0,279.0L382.0,278.5L378.0,277.5L374.0,277.0L371.5,279.0L369.0,280.0L367.5,281.5L365.0,283.5L363.5,284.5L360.0,284.2L356.5,284.5L355.5,286.5L353.0,287.0L351.0,285.0L349.0,285.5L347.0,284.0L344.5,285.0L342.5,284.0L341.5,281.2L338.0,281.0L336.5,278.0L336.0,276.0L336.5,273.5L350.0,272.8L350.2,265.0L349.7,260.0Z M419.7,255.7L445.2,255.7L446.7,259.5L448.2,264.0L449.7,267.7L452.0,270.0L454.2,273.0L457.2,276.0L459.5,278.2L461.0,280.2L458.7,279.7L455.0,276.7L452.0,275.2L449.0,275.2L446.0,276.7L443.7,280.5L442.2,284.2L440.0,288.0L439.7,291.7L441.5,294.7L443.7,297.0L443.0,300.0L440.0,302.2L435.5,302.7L431.0,300.7L427.2,298.5L423.5,294.7L420.5,291.0L418.2,288.0L417.5,284.2L415.2,281.2L414.5,277.5L416.7,273.7L417.5,269.2L417.5,265.5L419.7,261.0Z M461.8,283.5L464.0,285.5L468.0,285.0L473.0,283.5L477.0,282.0L480.0,281.5L479.5,285.0L478.5,290.0L476.5,295.0L474.0,300.0L470.0,305.0L466.0,309.0L462.0,313.0L459.0,316.0L458.0,312.0L458.0,306.0L459.0,301.5L462.0,300.0L465.5,298.0L468.5,295.0L471.5,292.0L467.0,290.0L463.0,287.5L460.0,284.5Z M445.0,298.5L447.5,301.0L450.0,302.0L452.5,303.5L455.5,302.5L459.0,301.5L458.0,306.0L458.0,312.0L459.0,316.0L456.5,319.0L454.5,322.5L453.0,325.0L450.0,322.0L446.0,319.0L441.5,315.0L442.0,312.0L443.5,309.0L442.5,305.0L443.0,301.0Z M322.5,274.0L324.0,271.5L326.5,270.0L329.5,269.5L332.0,271.0L334.0,273.0L336.0,276.0L337.0,280.0L335.0,280.0L332.0,279.8L329.0,280.0L325.5,280.2L324.5,279.0L328.0,278.5L331.0,277.5L328.0,276.8L324.5,277.2L323.5,276.5Z M325.0,280.5L329.0,280.0L331.5,280.2L330.5,282.0L328.5,283.5L326.5,282.5Z M328.5,283.5L330.5,282.0L332.0,280.5L335.0,280.5L338.0,281.0L341.5,281.2L342.5,284.0L343.5,287.0L344.0,290.0L343.0,293.0L341.5,291.5L340.5,289.0L339.0,287.0L337.5,286.5L335.0,286.5L333.0,288.5L331.5,287.0Z M337.5,294.0L339.0,291.0L340.5,290.0L342.0,292.5L343.5,294.0L345.0,297.0L345.5,300.0L344.5,301.5L341.5,299.0L338.5,296.0Z M356.5,284.5L360.0,284.2L363.5,284.5L363.8,288.0L364.5,292.0L365.0,295.5L364.5,298.0L361.0,299.5L358.5,300.5L356.5,299.0L355.8,296.0L356.5,292.0L356.8,288.0Z M413.7,347.3L417.7,345.3L419.7,342.0L424.3,342.7L428.3,344.7L430.3,346.7L431.7,344.0L428.3,342.7L428.3,336.7L431.0,334.7L435.0,335.3L438.3,336.7L440.3,340.0L439.7,343.3L439.0,347.3L437.7,349.3L433.7,350.7L431.0,352.7L427.7,355.3L425.0,358.0L421.7,359.3L417.7,358.0L414.3,356.7L413.4,352.0Z M438.3,336.7L440.3,338.0L441.7,342.0L442.3,346.0L444.3,350.0L444.3,354.7L443.0,356.7L441.4,354.0L441.0,350.7L439.7,348.7L439.0,347.3L439.7,343.3L440.3,340.0Z M389.6,356.7L396.0,357.3L402.7,358.7L408.7,359.1L410.7,359.6L414.7,358.8L418.7,358.3L414.9,359.1L410.7,360.1L410.4,363.3L410.0,369.3L408.0,370.0L408.3,376.7L409.6,382.7L413.3,380.0L416.7,378.7L420.0,380.0L422.7,376.7L425.3,373.3L428.7,371.3L432.7,371.1L434.0,374.7L434.7,378.7L436.0,383.3L434.7,386.7L432.0,390.7L430.0,394.0L427.3,396.7L424.0,399.3L420.0,401.3L416.0,400.9L410.7,401.3L406.7,403.3L404.7,402.7L402.7,400.0L403.3,396.7L402.7,393.3L400.7,388.7L398.7,383.3L396.7,378.0L395.3,372.7L393.3,367.3L391.3,362.0Z M410.7,360.1L414.9,359.1L418.7,358.3L420.7,361.3L422.7,364.0L425.3,366.7L427.3,370.0L428.7,371.3L425.3,373.3L422.7,376.7L420.0,380.0L416.7,378.7L413.3,380.0L409.6,382.7L408.3,376.7L408.0,370.0L410.0,369.3L410.4,363.3Z M431.7,380.7L433.3,379.6L434.9,381.3L434.4,383.6L432.3,383.6Z M422.9,390.0L426.0,387.3L428.0,389.3L425.3,392.7Z M475.7,344.7L477.0,346.7L477.7,352.0L476.3,356.7L474.3,362.0L472.3,367.3L471.0,370.0L475.3,359.3L473.3,364.7L472.0,370.0L470.0,375.3L467.3,378.7L464.0,379.3L462.0,377.3L461.3,372.7L461.1,370.0L462.7,366.0L463.3,361.3L464.0,356.7L464.3,360.7L463.7,356.7L467.0,354.0L471.0,351.3L473.7,348.0Z" stroke-opacity="0.32" stroke-width="0.35"/>
<path d="M230.0,296.7L229.2,300.0L230.0,303.3L230.8,307.5"/>
<path d="M223.0,299.7L224.2,303.3L225.0,307.5L227.5,309.2L230.8,307.5L232.5,306.7L235.8,307.5L238.3,305.0L240.0,307.0"/>
<path d="M210.8,372.5L209.7,378.3L209.2,386.7L210.0,396.7L210.8,405.0L210.0,413.3L211.7,421.7L213.7,428.3L214.7,429.4L215.3,434.1L215.3,438.8L217.1,442.9L220.0,446.5L224.1,448.2L227.6,448.2L225.3,449.4L224.7,451.8L228.8,453.5L231.8,455.3"/>
<path d="M243.3,381.7L241.7,385.0L238.3,388.3L236.3,391.3L240.0,392.5L244.2,395.8L247.5,397.5"/>
<path d="M236.3,391.3L235.3,394.2L235.3,398.3"/>
<path d="M180.8,309.2L185.0,310.8L189.2,312.5L190.8,313.7L188.3,316.7L185.0,320.0L181.7,323.3L178.3,325.3L176.3,323.7"/>
<path d="M190.8,313.7L195.0,317.5L199.2,318.3L200.8,320.0L200.0,323.3"/>
<path d="M205.8,339.2L205.0,343.3L205.3,348.3L204.2,353.3L204.2,358.3L203.3,360.8"/>
<path d="M232.5,363.3L227.5,363.7L223.3,365.0L221.7,369.2"/>
<path d="M416.2,167.9L420.0,167.9L422.5,169.6L424.2,172.5L426.7,174.6L425.8,176.7"/>
<path d="M461.0,268.0L464.0,267.0L470.0,267.5L472.5,265.0L477.0,263.5L482.0,264.0"/>
<path d="M479.5,249.5L481.0,252.5L484.0,253.5L487.0,253.0"/>
<path d="M540.5,233.4L541.7,237.5L546.3,239.8L552.2,241.6L558.0,243.3L561.5,243.3L560.9,240.1"/>
<path d="M562.1,239.8L562.7,242.8L567.3,243.3L569.1,241.0L567.9,238.9"/>
<path d="M598.7,253.0L602.0,255.0L603.3,258.3L602.0,261.0L605.3,265.0L608.7,269.7L610.0,273.7L608.0,275.7"/>
<path d="M604.0,274.3L608.0,275.7L609.3,277.7L608.7,281.0L606.0,283.7L604.0,286.3"/>
<path d="M579.3,239.0L582.0,239.7L583.3,244.3L582.7,248.3L584.7,251.7L588.7,255.0L590.7,257.0"/>
<path d="M579.3,239.0L576.7,242.3L575.3,245.7L573.3,249.7L572.3,255.0L572.1,256.6"/>
<path d="M590.7,257.0L593.3,254.3L596.7,255.0L598.7,253.0L602.0,251.7L606.0,253.7L608.7,256.3"/>
<path d="M590.7,257.0L588.7,259.7L586.0,261.7L584.7,265.0L586.7,268.3L588.7,273.7L590.0,279.0L591.1,283.0"/>
<path d="M616.7,309.2L621.7,309.2L626.7,307.5L630.8,305.0L634.2,302.5"/>
<path d="M372.5,263.5L372.5,268.0L371.0,271.0L368.0,272.5L363.5,273.5"/>
<path d="M363.5,273.5L360.5,273.5L357.0,275.0L354.0,277.5L351.5,281.0L351.0,285.0"/>
<path d="M363.5,273.5L365.0,276.5L366.5,279.0L369.0,280.0"/>
<path d="M419.0,287.2L422.7,285.7L426.5,286.5L430.2,288.0L434.0,285.0L436.2,285.7L438.5,281.2L439.7,285.0"/>
<path d="M446.7,274.5L446.0,272.2L446.7,270.0L448.2,267.0L449.7,267.7"/>
<path d="M410.0,369.3L408.0,370.0L407.3,376.7L407.7,384.0L406.0,388.0L403.3,388.7L401.3,388.0"/>
<path d="M128.0,136.4L105.0,156.0L104.3,156.7L106.3,158.3L107.3,160.3L110.3,159.3L112.7,158.7L113.0,162.0L112.7,165.3L114.3,168.0L113.0,169.7L111.3,170.0"/>
<path d="M115.0,185.4L114.0,185.4L170.0,185.4L178.0,187.0L180.0,187.1L184.7,187.6L189.4,190.6L191.8,195.3L190.6,200.0L188.2,204.1L191.8,202.9L198.8,199.4L207.1,196.5L214.1,194.7L218.8,191.8L220.6,190.0L222.9,188.2L224.1,191.2L223.5,194.1"/>
<path d="M360.0,199.2L363.3,200.4L368.3,201.7"/>
<path d="M344.2,202.5L347.5,203.3L348.8,205.4L347.5,208.3L347.5,211.7L346.7,214.6L345.8,216.2"/>
<path d="M377.0,173.3L376.3,175.7L375.7,178.0L375.0,179.7"/>
<path d="M371.0,178.0L373.3,178.7L375.7,178.0"/>
<path d="M368.7,180.3L371.3,181.3L374.0,183.0L376.0,184.0L378.3,185.0L378.7,187.3L378.0,188.7"/>
<path d="M375.7,190.7L377.0,189.3L378.0,188.7L380.7,189.0L383.0,189.7L382.7,191.0L381.3,192.3L379.3,192.0L377.7,193.0L376.3,192.3L375.7,190.7"/>
<path d="M376.3,192.3L376.7,194.3L377.7,196.0L378.3,198.0"/>
<path d="M390.7,173.3L391.2,176.0L391.9,178.7L391.3,180.0L389.0,181.0L387.3,182.3L388.3,184.0L390.0,185.3L389.3,186.7L388.0,188.0L385.7,188.3L383.0,189.7"/>
<path d="M391.3,180.0L394.0,181.0L396.7,182.0L399.3,183.3L400.3,184.0L403.3,184.5L406.7,184.3L409.3,184.7"/>
<path d="M389.3,186.7L392.0,186.0L394.7,186.3L397.0,185.7L398.7,184.7L400.3,184.0"/>
<path d="M382.7,191.0L385.3,191.0L388.0,191.3L390.7,192.0L393.3,191.7L396.0,191.0L396.3,189.3L397.0,187.3L397.0,185.7"/>
<path d="M390.7,192.0L391.3,193.7L393.3,194.3L395.3,193.7L396.3,192.3L396.0,191.0"/>
<path d="M393.3,194.3L394.7,196.0L396.7,197.3L398.7,199.3L400.7,201.3L402.7,202.7"/>
<path d="M396.3,192.3L399.3,193.3L401.7,193.7"/>
<path d="M411.7,137.5L408.3,136.2L405.8,135.0L404.2,136.2L401.7,135.4L399.2,137.5L397.5,139.6L394.2,142.5L391.7,145.8L389.2,148.3L386.7,150.8L385.4,154.2L385.0,158.3L385.4,161.7"/>
<path d="M405.8,135.0L406.7,137.5L404.2,140.4L404.6,142.9L406.7,145.4"/>
<path d="M406.7,163.8L410.0,163.3L413.3,163.5L415.4,163.3"/>
<path d="M403.8,167.9L407.5,167.5L411.7,167.1L414.2,168.8"/>
<path d="M410.0,197.2L410.5,197.8L412.5,198.0L415.0,198.2L417.5,198.0L420.0,197.8L422.2,197.2"/>
<path d="M404.8,193.2L406.0,191.5L407.0,190.0L408.0,188.5L408.5,187.0"/>
<path d="M411.2,204.0L413.0,204.8L415.0,204.5L417.5,204.8L419.0,204.2"/>
<path d="M407.0,205.2L408.5,205.5L410.5,205.0L411.2,204.0"/>
<path d="M382.0,300.5L385.0,295.0L388.3,293.8L390.8,290.8L392.5,287.5L394.2,284.2L396.2,281.2L395.4,278.8L394.6,273.3"/>
<path d="M395.4,278.8L396.7,281.7L395.4,285.0L396.7,287.5L398.3,292.9L401.7,291.7L405.8,290.0L410.0,287.9L412.5,285.4L414.2,283.8"/>
<path d="M398.3,292.9L397.1,295.8L396.7,298.3L397.5,301.7L399.6,304.6L400.4,305.8L405.0,303.3L406.7,300.0L410.0,300.8L414.2,301.7L417.5,300.0L421.7,298.8L425.0,298.8L426.7,300.0L430.0,301.7L433.8,302.5L438.3,302.1L442.5,301.7"/>
<path d="M433.8,302.5L435.0,304.2L434.2,307.5L432.5,310.8L431.7,315.0"/>
<path d="M385.0,306.2L389.2,306.7L393.3,306.2L396.7,306.7L400.4,305.8"/>
<path d="M384.6,307.1L388.8,307.1L388.8,310.0L384.6,310.0"/>
<path d="M388.8,307.1L392.5,306.7L394.6,307.1L395.8,309.2L395.0,310.8L395.4,313.3L396.2,315.8L394.2,317.9L392.5,317.9L391.2,319.6L389.6,320.4L388.3,322.1"/>
<path d="M394.6,307.1L397.5,306.2L400.0,306.7L400.4,304.6L402.1,303.8L405.0,303.3L405.8,301.7"/>
<path d="M405.0,303.3L405.0,307.1L404.6,310.8L402.9,314.2L401.2,316.7L400.0,319.6L399.6,322.1L397.9,323.8L396.2,325.0L394.6,324.6L392.5,325.8L391.2,325.0L389.6,322.9"/>
<path d="M392.5,325.8L392.1,327.5L391.7,327.9L395.8,327.9L400.0,327.9L400.8,330.0L402.1,332.1L404.2,332.9L406.7,332.9L408.3,331.2L411.2,331.2L412.9,332.5L413.3,335.8L413.8,339.2L415.0,341.2L418.3,341.7"/>
<path d="M434.2,303.3L433.3,306.7L432.1,310.0L431.2,313.3L430.4,316.7L429.6,320.0L430.8,322.5L430.4,325.0L431.2,328.3L432.1,331.7L433.3,334.2L436.7,335.4L439.6,336.7"/>
<path d="M430.4,316.7L433.3,316.2L434.2,317.9L433.3,320.0L434.2,321.7L432.9,323.8L430.8,324.2"/>
<path d="M433.3,316.2L438.3,316.2L441.7,315.8L445.8,317.9L450.0,320.4"/>
<path d="M430.8,320.0L433.8,320.0"/>
<path d="M443.3,342.5L446.7,343.3L450.0,342.5"/>
<path d="M433.3,353.3L437.3,356.0L438.7,360.7L438.0,365.3L436.0,368.7L432.7,371.1"/>
<path d="M371.5,279.5L371.0,284.0L370.0,288.0L369.5,293.0L369.5,297.0"/>
<path d="M367.0,283.5L367.5,288.0L366.8,293.0L367.0,297.0"/>
<path d="M343.3,241.7L349.2,248.3"/>
<path d="M459.0,280.5L458.8,283.0L460.0,284.5L461.8,283.5"/>
<path d="M479.9,202.1L479.4,198.8L478.5,195.5L483.2,193.6L487.9,196.0L492.1,198.4L496.8,197.9L500.1,199.8L502.9,202.6L506.2,204.9L509.1,205.4L511.4,202.1L514.2,200.2L518.0,199.3L522.7,200.0L527.4,200.2L531.2,201.2"/>
<path d="M509.1,205.4L511.4,204.5L514.2,204.9L517.1,205.4L515.2,206.8L512.4,207.3L511.4,208.2L514.2,208.7L518.0,208.2L520.8,208.2"/>
<path d="M509.1,205.4L508.1,207.8L507.2,210.1L509.5,208.7L511.4,208.2"/>
<path d="M460.5,203.8L461.4,205.4L460.5,208.1"/>
</g>
</g>
<g id="legend">
<rect x="36.5" y="537.5" width="47" height="11" fill="url(#hatch)" stroke="#c9c9c9" stroke-width="1"/>
<line x1="60" y1="534.5" x2="60" y2="537" stroke="#c4c4c4" stroke-width="1"/>
<text x="60" y="530.5" text-anchor="middle">No data</text>
<rect x="103.5" y="537" width="88.75" height="11.5" fill="#d7191c"/>
<rect x="192.25" y="537" width="88.75" height="11.5" fill="#e34a33"/>
<rect x="281" y="537" width="88.75" height="11.5" fill="#f78c55"/>
<rect x="369.75" y="537" width="88.75" height="11.5" fill="#fee08f"/>
<rect x="458.5" y="537" width="88.75" height="11.5" fill="#e0f2f9"/>
<rect x="547.25" y="537" width="88.75" height="11.5" fill="#92c0df"/>
<rect x="636" y="537" width="88.75" height="11.5" fill="#5396c8"/>
<rect x="724.75" y="537" width="88.75" height="11.5" fill="#2c7bb6"/>
<g stroke="#8a8a8a" stroke-width="0.5" fill="none">
<line x1="192.25" y1="537" x2="192.25" y2="548.5"/><line x1="281" y1="537" x2="281" y2="548.5"/><line x1="369.75" y1="537" x2="369.75" y2="548.5"/><line x1="458.5" y1="537" x2="458.5" y2="548.5"/><line x1="547.25" y1="537" x2="547.25" y2="548.5"/><line x1="636" y1="537" x2="636" y2="548.5"/><line x1="724.75" y1="537" x2="724.75" y2="548.5"/>
</g>
<g stroke="#c4c4c4" stroke-width="1">
<line x1="148" y1="520.5" x2="148" y2="537"/>
<line x1="236.5" y1="534" x2="236.5" y2="537"/>
<line x1="414" y1="520.5" x2="414" y2="537"/>
<line x1="503" y1="534" x2="503" y2="537"/>
<line x1="591.5" y1="520.5" x2="591.5" y2="537"/>
<line x1="680.5" y1="534" x2="680.5" y2="537"/>
<line x1="769" y1="520.5" x2="769" y2="537"/>
</g>
<text x="148" y="516" text-anchor="middle">Non-elect. autocracy</text>
<text x="236.5" y="530.5" text-anchor="middle">One-party autocracy</text>
<text x="414" y="516" text-anchor="middle">Multi-party autocracy</text>
<text x="503" y="530.5" text-anchor="middle">Exclusive democracy</text>
<text x="591.5" y="516" text-anchor="middle">Male democracy</text>
<text x="680.5" y="530.5" text-anchor="middle">Electoral democracy</text>
<text x="769" y="516" text-anchor="middle">Full democracy</text>
</g>
</svg>
<div class="src"><b>Data source:</b> Skaaning et al. (2026)</div>
<div class="url">OurWorldinData.org/democracy | CC BY</div>
</body></html>
